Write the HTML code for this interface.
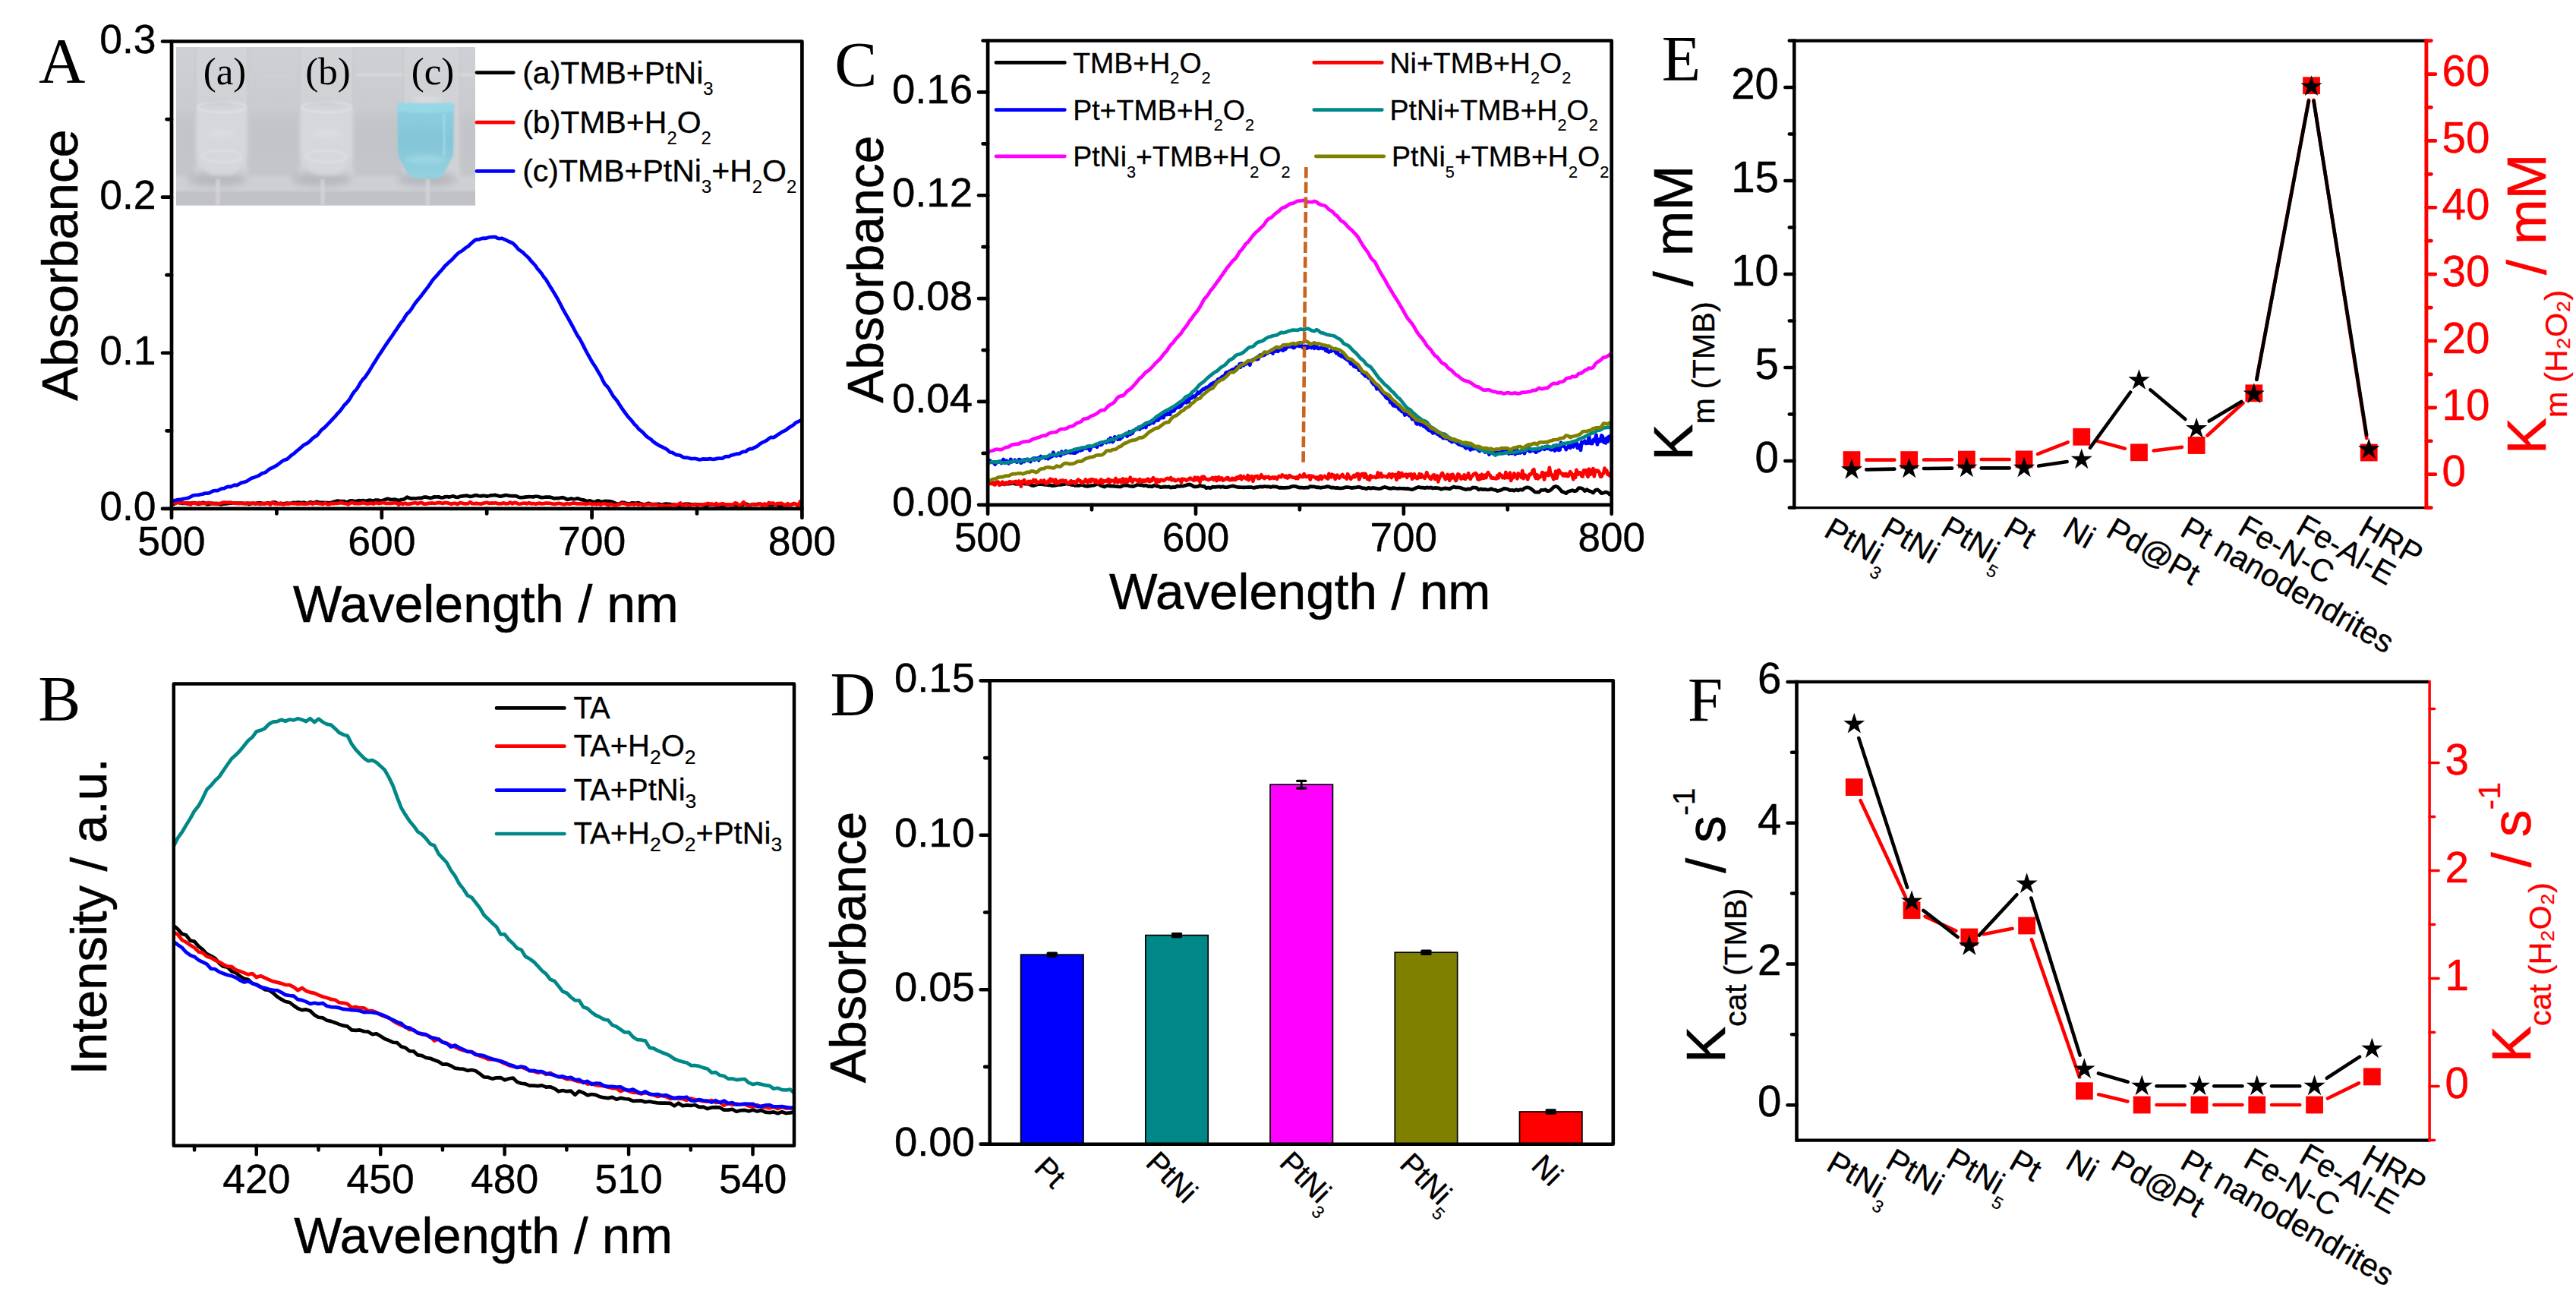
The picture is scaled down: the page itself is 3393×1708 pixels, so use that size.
<!DOCTYPE html>
<html lang="en"><head><meta charset="utf-8"><title>Figure</title>
<style>html,body{margin:0;padding:0;background:#fff}svg{display:block}</style></head>
<body>
<svg width="3393" height="1708" viewBox="0 0 3393 1708">
<rect width="3393" height="1708" fill="#fff"/>
<defs>
<filter id="b1" x="-20%" y="-20%" width="140%" height="140%"><feGaussianBlur stdDeviation="1.2"/></filter>
<filter id="b2" x="-20%" y="-20%" width="140%" height="140%"><feGaussianBlur stdDeviation="2.5"/></filter>
<filter id="b4" x="-30%" y="-30%" width="160%" height="160%"><feGaussianBlur stdDeviation="5"/></filter>
<linearGradient id="bg" x1="0" y1="0" x2="0" y2="1">
<stop offset="0" stop-color="#cfd0d5"/><stop offset="0.45" stop-color="#c9cace"/><stop offset="0.9" stop-color="#c3c4c9"/><stop offset="1" stop-color="#bfc0c6"/>
</linearGradient>
<linearGradient id="liq" x1="0" y1="0" x2="0" y2="1">
<stop offset="0" stop-color="#8fd0e2"/><stop offset="0.5" stop-color="#84c5d8"/><stop offset="1" stop-color="#92d2e0"/>
</linearGradient>
<clipPath id="pc"><rect x="232" y="62" width="394" height="208.5"/></clipPath>
<clipPath id="cA"><rect x="226" y="54.5" width="830.4" height="615.4"/></clipPath>
<clipPath id="cB"><rect x="228.8" y="900.6" width="817.2" height="608.2"/></clipPath>
<clipPath id="cC"><rect x="1301.1" y="53.5" width="821.6" height="611.3"/></clipPath>
</defs>
<g clip-path="url(#pc)">
<rect x="232" y="62" width="394" height="208.5" fill="url(#bg)"/>
<rect x="222" y="150" width="414" height="70" fill="#c3c4c9" opacity="0.8" filter="url(#b4)"/>
<rect x="222" y="232" width="414" height="20" fill="#d0d1d5" opacity="0.9" filter="url(#b2)"/>
<rect x="222" y="252.5" width="414" height="24" fill="#c1c2c8"/>
<rect x="470" y="96" width="170" height="4.5" fill="#d9dadd" opacity="0.8" filter="url(#b1)"/>
<rect x="345" y="98" width="40" height="4" fill="#d2d3d7" opacity="0.7" filter="url(#b1)"/>
<rect x="257" y="50" width="70" height="185" fill="#d3d4d8" opacity="0.8" filter="url(#b2)"/>
<rect x="256" y="50" width="3" height="170" fill="#bfc0c5" opacity="0.35" filter="url(#b1)"/>
<rect x="325" y="50" width="3" height="170" fill="#bfc0c5" opacity="0.35" filter="url(#b1)"/>
<ellipse cx="286" cy="236" rx="40" ry="9" fill="#b3b4ba" opacity="0.85" filter="url(#b4)"/>
<rect x="284" y="236" width="6" height="34" fill="#d5d6da" opacity="0.7" filter="url(#b1)"/>
<path d="M259 142 L325 142 L325 205 Q319 224 304 231 L280 231 Q265 224 259 205 Z" fill="#d8d9dd" opacity="0.8" filter="url(#b2)"/>
<ellipse cx="292" cy="141" rx="32" ry="7" fill="none" stroke="#e1e2e5" stroke-width="2.5" opacity="0.8" filter="url(#b1)"/>
<ellipse cx="292" cy="206" rx="25" ry="8" fill="none" stroke="#e0e1e4" stroke-width="2.5" opacity="0.75" filter="url(#b1)"/>
<ellipse cx="286" cy="133" rx="20" ry="5" fill="#cdced2" opacity="0.7" filter="url(#b2)"/>
<ellipse cx="292" cy="176" rx="18" ry="6" fill="#e0e1e4" opacity="0.5" filter="url(#b2)"/>
<rect x="394" y="50" width="72" height="185" fill="#d3d4d8" opacity="0.8" filter="url(#b2)"/>
<rect x="393" y="50" width="3" height="170" fill="#bfc0c5" opacity="0.35" filter="url(#b1)"/>
<rect x="464" y="50" width="3" height="170" fill="#bfc0c5" opacity="0.35" filter="url(#b1)"/>
<ellipse cx="424" cy="236" rx="40" ry="9" fill="#b3b4ba" opacity="0.85" filter="url(#b4)"/>
<rect x="422" y="236" width="6" height="34" fill="#d5d6da" opacity="0.7" filter="url(#b1)"/>
<path d="M396 142 L464 142 L464 205 Q458 224 442 231 L418 231 Q402 224 396 205 Z" fill="#d8d9dd" opacity="0.8" filter="url(#b2)"/>
<ellipse cx="430" cy="141" rx="33" ry="7" fill="none" stroke="#e1e2e5" stroke-width="2.5" opacity="0.8" filter="url(#b1)"/>
<ellipse cx="430" cy="206" rx="26" ry="8" fill="none" stroke="#e0e1e4" stroke-width="2.5" opacity="0.75" filter="url(#b1)"/>
<ellipse cx="424" cy="133" rx="20" ry="5" fill="#cdced2" opacity="0.7" filter="url(#b2)"/>
<ellipse cx="430" cy="176" rx="18" ry="6" fill="#e0e1e4" opacity="0.5" filter="url(#b2)"/>
<rect x="530.5" y="50" width="76" height="185" fill="#d3d4d8" opacity="0.8" filter="url(#b2)"/>
<rect x="529.5" y="50" width="3" height="170" fill="#bfc0c5" opacity="0.35" filter="url(#b1)"/>
<rect x="604.5" y="50" width="3" height="170" fill="#bfc0c5" opacity="0.35" filter="url(#b1)"/>
<ellipse cx="562.5" cy="236" rx="40" ry="9" fill="#b3b4ba" opacity="0.85" filter="url(#b4)"/>
<rect x="560.5" y="236" width="6" height="34" fill="#d5d6da" opacity="0.7" filter="url(#b1)"/>
<path d="M523.5 136 L598 136 L597 204 L588 222 Q583 235 573 235 L551 235 Q539 235 533 222 L524 204 Z" fill="url(#liq)" filter="url(#b1)"/>
<path d="M524 136 L597.5 136 L597 146 Q561 152 524.5 146 Z" fill="#9adbe9" opacity="0.75" filter="url(#b1)"/>
<ellipse cx="561" cy="210" rx="27" ry="6" fill="#a5dde8" opacity="0.55" filter="url(#b2)"/>
<rect x="583" y="150" width="4" height="55" fill="#a6dce8" opacity="0.6" filter="url(#b1)"/>
<ellipse cx="563" cy="131" rx="20" ry="4" fill="#dcdde1" opacity="0.8" filter="url(#b2)"/>
</g>
<text x="296" y="110.6" font-family='"Liberation Serif", "Times New Roman", Times, serif' font-size="51" text-anchor="middle" fill="#000" stroke="#000" stroke-width="0">(a)</text>
<text x="432" y="110.6" font-family='"Liberation Serif", "Times New Roman", Times, serif' font-size="51" text-anchor="middle" fill="#000" stroke="#000" stroke-width="0">(b)</text>
<text x="570" y="110.6" font-family='"Liberation Serif", "Times New Roman", Times, serif' font-size="51" text-anchor="middle" fill="#000" stroke="#000" stroke-width="0">(c)</text>
<g clip-path="url(#cA)">
<path d="M226 663.87 L228.77 663.72 L231.54 662.62 L234.31 661.45 L237.08 661.68 L239.85 662.84 L242.62 662.58 L245.39 662.89 L248.16 663.36 L250.93 662.68 L253.7 662.03 L256.47 662.33 L259.24 663.11 L262.01 663.62 L264.78 662.63 L267.55 661.8 L270.32 662.81 L273.09 664.14 L275.86 663.76 L278.63 662.65 L281.4 663.2 L284.17 663.39 L286.94 663.21 L289.71 664.13 L292.48 664.08 L295.25 663.35 L298.02 663.4 L300.79 663.04 L303.56 662.59 L306.33 662.63 L309.1 662.61 L311.87 662.66 L314.64 662.67 L317.41 662.72 L320.18 662.86 L322.95 663.08 L325.72 663.18 L328.49 663.84 L331.26 662.93 L334.03 662.87 L336.8 663.51 L339.57 662.25 L342.34 662.26 L345.11 662.9 L347.88 663.49 L350.65 662.89 L353.42 662.44 L356.19 662.98 L358.96 662.01 L361.73 661.32 L364.5 662.41 L367.27 663.29 L370.04 663.49 L372.81 663.36 L375.58 662.96 L378.35 662.7 L381.12 663.05 L383.89 662.51 L386.66 661.78 L389.43 662.33 L392.2 661.56 L394.97 661.95 L397.74 662.28 L400.51 661.53 L403.28 662.93 L406.05 662.49 L408.82 661.09 L411.59 662.21 L414.36 661.87 L417.13 660.82 L419.9 661.54 L422.67 661.92 L425.44 661.88 L428.21 661.77 L430.98 662.06 L433.75 662.3 L436.52 661.84 L439.29 660.91 L442.06 660.17 L444.83 659.47 L447.6 660.06 L450.37 660 L453.14 660 L455.91 661.71 L458.68 660.64 L461.45 659.27 L464.22 659.45 L466.99 660.09 L469.76 659.78 L472.53 659.19 L475.3 659.24 L478.07 659.06 L480.84 659.84 L483.61 659.37 L486.38 658.65 L489.15 659.14 L491.92 659.41 L494.69 658.53 L497.46 658.54 L500.23 659.26 L503 659.02 L505.77 658.71 L508.54 657.33 L511.31 656.84 L514.08 657.91 L516.85 658.1 L519.62 657.53 L522.39 658.24 L525.16 659.2 L527.93 658.14 L530.7 657.85 L533.47 656.73 L536.24 654.6 L539.01 655.86 L541.78 656.58 L544.55 656.29 L547.32 656.52 L550.09 656.04 L552.86 655.97 L555.63 655.95 L558.4 654.71 L561.17 654.61 L563.94 655.33 L566.71 656 L569.48 655.24 L572.25 654.22 L575.02 654.47 L577.79 654.3 L580.56 655.24 L583.33 655.4 L586.1 654.26 L588.87 654.06 L591.64 654.58 L594.41 653.92 L597.18 653.32 L599.95 654.49 L602.72 654.96 L605.49 654.09 L608.26 653.35 L611.03 653.21 L613.8 652.6 L616.57 653.07 L619.34 653.94 L622.11 653.48 L624.88 652.6 L627.65 652.13 L630.42 652.97 L633.19 653.41 L635.96 652.87 L638.73 652.96 L641.5 653.64 L644.27 653.04 L647.04 652.31 L649.81 652.21 L652.58 651.91 L655.35 652.75 L658.12 653.6 L660.89 653.4 L663.66 652.61 L666.43 651.97 L669.2 652.57 L671.97 652.95 L674.74 653.11 L677.51 653.03 L680.28 653.37 L683.05 654.69 L685.82 655.21 L688.59 655.2 L691.36 654.56 L694.13 654.3 L696.9 654.17 L699.67 654.26 L702.44 654.35 L705.21 653.77 L707.98 653.76 L710.75 654.49 L713.52 655.1 L716.29 655.01 L719.06 654.48 L721.83 654.64 L724.6 654.69 L727.37 655.54 L730.14 656.4 L732.91 655.97 L735.68 656.2 L738.45 655.53 L741.22 655.12 L743.99 656.11 L746.76 657.74 L749.53 657.42 L752.3 656.54 L755.07 657.27 L757.84 656.99 L760.61 656.37 L763.38 657.2 L766.15 658.22 L768.92 658.45 L771.69 659.46 L774.46 659.8 L777.23 659.45 L780 660.56 L782.77 661.47 L785.54 660.13 L788.31 659.34 L791.08 660.95 L793.85 660.69 L796.62 659.89 L799.39 660.17 L802.16 660.17 L804.93 660.47 L807.7 661.45 L810.47 662.84 L813.24 663.7 L816.01 663.26 L818.78 661.7 L821.55 661.82 L824.32 662.77 L827.09 663.1 L829.86 663.31 L832.63 662.34 L835.4 662.68 L838.17 662.63 L840.94 662.15 L843.71 663.4 L846.48 663.99 L849.25 664.68 L852.02 663.41 L854.79 662.86 L857.56 664.43 L860.33 664.16 L863.1 664.19 L865.87 663.86 L868.64 663.93 L871.41 664.79 L874.18 664.02 L876.95 663.47 L879.72 663.9 L882.49 663.94 L885.26 664.58 L888.03 665.02 L890.8 665.18 L893.57 665.7 L896.34 665.09 L899.11 664.43 L901.88 663.94 L904.65 663.65 L907.42 663.73 L910.19 664.31 L912.96 664.28 L915.73 664.16 L918.5 664.7 L921.27 664.43 L924.04 664.25 L926.81 665.22 L929.58 666.12 L932.35 665.02 L935.12 664.14 L937.89 664.35 L940.66 664.32 L943.43 665.27 L946.2 665.75 L948.97 665.62 L951.74 666.17 L954.51 665.34 L957.28 664.37 L960.05 664.61 L962.82 665.22 L965.59 665.16 L968.36 664.98 L971.13 665.61 L973.9 665.87 L976.67 665.52 L979.44 664.56 L982.21 663.57 L984.98 664.52 L987.75 665.52 L990.52 664.51 L993.29 664.04 L996.06 664.28 L998.83 663.71 L1001.6 664.06 L1004.37 664.5 L1007.14 664.24 L1009.91 664.99 L1012.68 665.1 L1015.45 665 L1018.22 665.26 L1020.99 665.01 L1023.76 664.83 L1026.53 665.73 L1029.3 665.63 L1032.07 665.51 L1034.84 665.15 L1037.61 664.7 L1040.38 665.24 L1043.15 664.52 L1045.92 663.13 L1048.69 664.28 L1051.46 665.02 L1054.23 663.75 L1056.4 664.39" fill="none" stroke="#000" stroke-width="4.7" stroke-linejoin="round" stroke-linecap="butt"/>
<path d="M226 662.68 L228.77 662.01 L231.54 662.59 L234.31 661.44 L237.08 662.94 L239.85 661.58 L242.62 662.53 L245.39 662.47 L248.16 662.08 L250.93 664.31 L253.7 662.25 L256.47 662.91 L259.24 663.3 L262.01 661.93 L264.78 663.49 L267.55 662.63 L270.32 663.33 L273.09 662.19 L275.86 662.14 L278.63 663.5 L281.4 663.09 L284.17 662.89 L286.94 663.21 L289.71 663.16 L292.48 662.16 L295.25 661.54 L298.02 661.88 L300.79 661.83 L303.56 661.59 L306.33 662.54 L309.1 662.63 L311.87 662.94 L314.64 663.1 L317.41 662.76 L320.18 662.85 L322.95 663.06 L325.72 662.43 L328.49 662.61 L331.26 663.07 L334.03 662.65 L336.8 662.73 L339.57 663.02 L342.34 663.89 L345.11 663.29 L347.88 662.91 L350.65 662.77 L353.42 663.06 L356.19 664.48 L358.96 661.26 L361.73 663.47 L364.5 663.3 L367.27 663.68 L370.04 662.48 L372.81 664.44 L375.58 663.78 L378.35 663.15 L381.12 663.28 L383.89 662.76 L386.66 663.22 L389.43 663.11 L392.2 663.76 L394.97 663.41 L397.74 663.15 L400.51 663.61 L403.28 663.53 L406.05 663.33 L408.82 662.28 L411.59 663.81 L414.36 662.49 L417.13 662.59 L419.9 663.13 L422.67 663.49 L425.44 664.03 L428.21 662.17 L430.98 664.06 L433.75 664.15 L436.52 662.89 L439.29 663.04 L442.06 662.81 L444.83 662.79 L447.6 662.34 L450.37 662.12 L453.14 663.01 L455.91 663.28 L458.68 664.21 L461.45 662.51 L464.22 661.85 L466.99 663.18 L469.76 662.81 L472.53 663.29 L475.3 662.83 L478.07 662.31 L480.84 662.64 L483.61 663.53 L486.38 663.2 L489.15 662.45 L491.92 663.55 L494.69 662.15 L497.46 662.69 L500.23 663.12 L503 662.17 L505.77 662.27 L508.54 662.98 L511.31 662.92 L514.08 662.81 L516.85 662.61 L519.62 662.28 L522.39 662.46 L525.16 664.75 L527.93 662.54 L530.7 663.81 L533.47 662.55 L536.24 663.72 L539.01 663.63 L541.78 663.15 L544.55 662.49 L547.32 662.04 L550.09 663.44 L552.86 662.09 L555.63 662.09 L558.4 663.76 L561.17 663.72 L563.94 662.86 L566.71 662.68 L569.48 662.43 L572.25 663.03 L575.02 662.53 L577.79 661.91 L580.56 662.35 L583.33 662.96 L586.1 661.85 L588.87 662.22 L591.64 662.88 L594.41 663.81 L597.18 662.91 L599.95 662.82 L602.72 663.96 L605.49 662.16 L608.26 662.36 L611.03 663.31 L613.8 663.46 L616.57 663.09 L619.34 661.25 L622.11 663.27 L624.88 663.23 L627.65 662.86 L630.42 663.24 L633.19 663.69 L635.96 662.89 L638.73 662.31 L641.5 661.77 L644.27 662.93 L647.04 662.47 L649.81 662.57 L652.58 662.24 L655.35 663.1 L658.12 663.39 L660.89 663.22 L663.66 662.3 L666.43 663.52 L669.2 663.19 L671.97 661.52 L674.74 663.39 L677.51 661.83 L680.28 662.38 L683.05 663.72 L685.82 663.49 L688.59 662.73 L691.36 662.6 L694.13 663.36 L696.9 662.09 L699.67 663.44 L702.44 663.03 L705.21 663.67 L707.98 663.17 L710.75 662.62 L713.52 663.41 L716.29 663.1 L719.06 662.48 L721.83 662.65 L724.6 662.77 L727.37 663.43 L730.14 663.88 L732.91 663.42 L735.68 662.74 L738.45 663.26 L741.22 663.85 L743.99 664.18 L746.76 662.99 L749.53 663.75 L752.3 663.36 L755.07 662.33 L757.84 662.87 L760.61 663.33 L763.38 663.38 L766.15 663.48 L768.92 663.38 L771.69 663.98 L774.46 663.21 L777.23 662.85 L780 664.14 L782.77 663.48 L785.54 664.35 L788.31 663.4 L791.08 664.71 L793.85 663.21 L796.62 663.25 L799.39 664.41 L802.16 665.1 L804.93 663.55 L807.7 665.06 L810.47 665.08 L813.24 664.65 L816.01 664.03 L818.78 662.76 L821.55 663.19 L824.32 663.74 L827.09 664.68 L829.86 664.24 L832.63 663.95 L835.4 664.53 L838.17 663.29 L840.94 664.84 L843.71 663.88 L846.48 665.62 L849.25 664.81 L852.02 664.14 L854.79 664.35 L857.56 663.53 L860.33 665 L863.1 664.07 L865.87 664.84 L868.64 665.94 L871.41 665.3 L874.18 665.45 L876.95 667.37 L879.72 665.71 L882.49 666.11 L885.26 664.91 L888.03 664.08 L890.8 665.38 L893.57 664.11 L896.34 662.37 L899.11 665.76 L901.88 665.51 L904.65 664.15 L907.42 666.42 L910.19 665.04 L912.96 664.61 L915.73 664.07 L918.5 666.16 L921.27 664.47 L924.04 664.34 L926.81 664.31 L929.58 663.9 L932.35 662.87 L935.12 663.81 L937.89 663.58 L940.66 665.24 L943.43 662.97 L946.2 665.13 L948.97 663.73 L951.74 663.35 L954.51 664.04 L957.28 664.25 L960.05 664.32 L962.82 664.86 L965.59 664.43 L968.36 662.31 L971.13 663.33 L973.9 666.12 L976.67 663.99 L979.44 661.24 L982.21 664.33 L984.98 666.24 L987.75 665.58 L990.52 664.17 L993.29 664.37 L996.06 664.91 L998.83 663.87 L1001.6 663.43 L1004.37 666.21 L1007.14 663.52 L1009.91 665.4 L1012.68 661.92 L1015.45 662.97 L1018.22 662.45 L1020.99 664.59 L1023.76 663.15 L1026.53 663.11 L1029.3 662.72 L1032.07 664.22 L1034.84 665.4 L1037.61 663.15 L1040.38 664.88 L1043.15 663.98 L1045.92 663.09 L1048.69 664.51 L1051.46 665.99 L1054.23 660.11 L1056.4 665.04" fill="none" stroke="#f00" stroke-width="4.7" stroke-linejoin="round" stroke-linecap="butt"/>
<path d="M226 659.35 L228.77 659.06 L231.54 658.74 L234.31 658.02 L237.08 657.96 L239.85 657.38 L242.62 656.76 L245.39 656.26 L248.16 655.68 L250.93 654.29 L253.7 652.76 L256.47 652.01 L259.24 651.87 L262.01 651.59 L264.78 651.04 L267.55 650.57 L270.32 649.57 L273.09 649.58 L275.86 649.08 L278.63 647.54 L281.4 646.23 L284.17 646.01 L286.94 646.06 L289.71 644.46 L292.48 643.31 L295.25 643.08 L298.02 641.74 L300.79 640.76 L303.56 641.15 L306.33 639.8 L309.1 638.59 L311.87 639.07 L314.64 637.72 L317.41 635.85 L320.18 635.18 L322.95 634.49 L325.72 633.42 L328.49 631.43 L331.26 629.72 L334.03 629.04 L336.8 627.86 L339.57 626.86 L342.34 625.43 L345.11 623.38 L347.88 622.73 L350.65 621.33 L353.42 618.7 L356.19 617.14 L358.96 615.8 L361.73 614.39 L364.5 612.92 L367.27 610.74 L370.04 608.59 L372.81 606.66 L375.58 605.45 L378.35 604.52 L381.12 602.03 L383.89 599.49 L386.66 597.66 L389.43 595.22 L392.2 592.82 L394.97 590.74 L397.74 588.07 L400.51 585.79 L403.28 584.49 L406.05 582.88 L408.82 580.32 L411.59 577.45 L414.36 575.36 L417.13 573.84 L419.9 570.7 L422.67 567.01 L425.44 564.54 L428.21 562.34 L430.98 559.4 L433.75 556.52 L436.52 553.66 L439.29 550.72 L442.06 547.83 L444.83 544.32 L447.6 541.57 L450.37 538.01 L453.14 534.03 L455.91 531.26 L458.68 528.2 L461.45 524.24 L464.22 519.23 L466.99 515.49 L469.76 512.48 L472.53 508.02 L475.3 503.06 L478.07 499.44 L480.84 496.81 L483.61 492.64 L486.38 488.44 L489.15 483.89 L491.92 479.3 L494.69 475.12 L497.46 470.4 L500.23 466.29 L503 462.15 L505.77 457.78 L508.54 453.64 L511.31 449.61 L514.08 445.69 L516.85 441.85 L519.62 437.47 L522.39 433.55 L525.16 429.35 L527.93 425.28 L530.7 422.08 L533.47 417.24 L536.24 413.19 L539.01 410.67 L541.78 407.16 L544.55 402.77 L547.32 398.66 L550.09 395.28 L552.86 391.89 L555.63 388.43 L558.4 384.76 L561.17 381.16 L563.94 377.65 L566.71 373.45 L569.48 369.4 L572.25 366.06 L575.02 363.28 L577.79 359.9 L580.56 356.96 L583.33 353.7 L586.1 350.32 L588.87 347.69 L591.64 345.1 L594.41 342.78 L597.18 339.95 L599.95 336.86 L602.72 334.12 L605.49 332 L608.26 330.51 L611.03 328.38 L613.8 326.01 L616.57 324.43 L619.34 321.78 L622.11 319.23 L624.88 316.92 L627.65 315.45 L630.42 315.42 L633.19 314.45 L635.96 313.7 L638.73 313.82 L641.5 313.36 L644.27 312.53 L647.04 312.26 L649.81 312.14 L652.58 312.09 L655.35 313.7 L658.12 314.25 L660.89 313.78 L663.66 314.84 L666.43 316.08 L669.2 317.54 L671.97 318.75 L674.74 319.99 L677.51 322.09 L680.28 325.17 L683.05 328.46 L685.82 330.41 L688.59 332.3 L691.36 335.12 L694.13 337.63 L696.9 340.27 L699.67 343.97 L702.44 346.77 L705.21 349.77 L707.98 354.06 L710.75 356.97 L713.52 360.54 L716.29 364.69 L719.06 368.06 L721.83 372.66 L724.6 377.37 L727.37 381.6 L730.14 386.16 L732.91 390.85 L735.68 395.85 L738.45 401.12 L741.22 406.67 L743.99 411.68 L746.76 416.44 L749.53 421.25 L752.3 426.26 L755.07 431.38 L757.84 436.75 L760.61 441.96 L763.38 445.92 L766.15 450.86 L768.92 456.41 L771.69 461.85 L774.46 467 L777.23 471.85 L780 476.92 L782.77 481.03 L785.54 485.33 L788.31 490.3 L791.08 494.68 L793.85 500.62 L796.62 505.82 L799.39 508.51 L802.16 512.18 L804.93 517.05 L807.7 521.65 L810.47 525.07 L813.24 528.48 L816.01 532.89 L818.78 537.15 L821.55 541.03 L824.32 544.83 L827.09 548.7 L829.86 551.53 L832.63 554.73 L835.4 558.39 L838.17 560.92 L840.94 564.57 L843.71 566.97 L846.48 569.15 L849.25 572.19 L852.02 575.03 L854.79 576.87 L857.56 578.72 L860.33 581.57 L863.1 583.43 L865.87 585.21 L868.64 586.98 L871.41 588.1 L874.18 589.6 L876.95 590.96 L879.72 592.97 L882.49 595.48 L885.26 595.94 L888.03 597.37 L890.8 599.1 L893.57 599.2 L896.34 600.02 L899.11 601.71 L901.88 602.65 L904.65 602.51 L907.42 603.28 L910.19 604.06 L912.96 604 L915.73 603.92 L918.5 604.55 L921.27 605.5 L924.04 604.91 L926.81 604.41 L929.58 604.59 L932.35 604.6 L935.12 604.08 L937.89 604.56 L940.66 604.82 L943.43 604.11 L946.2 603.59 L948.97 603.72 L951.74 603.59 L954.51 601.56 L957.28 601.19 L960.05 601.23 L962.82 599.72 L965.59 598.95 L968.36 598.21 L971.13 597.66 L973.9 597.38 L976.67 595.66 L979.44 594.77 L982.21 594.71 L984.98 592.35 L987.75 591.21 L990.52 591.11 L993.29 589.51 L996.06 588.35 L998.83 586.5 L1001.6 584.07 L1004.37 582.69 L1007.14 581.43 L1009.91 579.94 L1012.68 577.61 L1015.45 575.79 L1018.22 576.22 L1020.99 575.02 L1023.76 572.88 L1026.53 571.32 L1029.3 569.22 L1032.07 567.81 L1034.84 566.59 L1037.61 564.44 L1040.38 562.34 L1043.15 560.94 L1045.92 558.86 L1048.69 556.37 L1051.46 555.19 L1054.23 553.98 L1056.4 551.87" fill="none" stroke="#00f" stroke-width="4.7" stroke-linejoin="round" stroke-linecap="butt"/>
</g>
<rect x="226" y="54.5" width="830.4" height="615.4" fill="none" stroke="#000" stroke-width="4.7" stroke-linejoin="round"/>
<line x1="226" y1="669.9" x2="214" y2="669.9" stroke="#000" stroke-width="4.7" stroke-linecap="round"/>
<text x="205.5" y="685.1" font-family='"Liberation Sans", Arial, Helvetica, sans-serif' font-size="53.5" text-anchor="end" fill="#000" stroke="#000" stroke-width="0.43">0.0</text>
<line x1="226" y1="464.77" x2="214" y2="464.77" stroke="#000" stroke-width="4.7" stroke-linecap="round"/>
<text x="205.5" y="479.97" font-family='"Liberation Sans", Arial, Helvetica, sans-serif' font-size="53.5" text-anchor="end" fill="#000" stroke="#000" stroke-width="0.43">0.1</text>
<line x1="226" y1="259.63" x2="214" y2="259.63" stroke="#000" stroke-width="4.7" stroke-linecap="round"/>
<text x="205.5" y="274.83" font-family='"Liberation Sans", Arial, Helvetica, sans-serif' font-size="53.5" text-anchor="end" fill="#000" stroke="#000" stroke-width="0.43">0.2</text>
<line x1="226" y1="54.5" x2="214" y2="54.5" stroke="#000" stroke-width="4.7" stroke-linecap="round"/>
<text x="205.5" y="69.7" font-family='"Liberation Sans", Arial, Helvetica, sans-serif' font-size="53.5" text-anchor="end" fill="#000" stroke="#000" stroke-width="0.43">0.3</text>
<line x1="226" y1="567.33" x2="219.5" y2="567.33" stroke="#000" stroke-width="4.7" stroke-linecap="round"/>
<line x1="226" y1="362.2" x2="219.5" y2="362.2" stroke="#000" stroke-width="4.7" stroke-linecap="round"/>
<line x1="226" y1="157.07" x2="219.5" y2="157.07" stroke="#000" stroke-width="4.7" stroke-linecap="round"/>
<line x1="226" y1="669.9" x2="226" y2="681.9" stroke="#000" stroke-width="4.7" stroke-linecap="round"/>
<text x="226" y="731.3" font-family='"Liberation Sans", Arial, Helvetica, sans-serif' font-size="53.5" text-anchor="middle" fill="#000" stroke="#000" stroke-width="0.43">500</text>
<line x1="502.8" y1="669.9" x2="502.8" y2="681.9" stroke="#000" stroke-width="4.7" stroke-linecap="round"/>
<text x="502.8" y="731.3" font-family='"Liberation Sans", Arial, Helvetica, sans-serif' font-size="53.5" text-anchor="middle" fill="#000" stroke="#000" stroke-width="0.43">600</text>
<line x1="779.6" y1="669.9" x2="779.6" y2="681.9" stroke="#000" stroke-width="4.7" stroke-linecap="round"/>
<text x="779.6" y="731.3" font-family='"Liberation Sans", Arial, Helvetica, sans-serif' font-size="53.5" text-anchor="middle" fill="#000" stroke="#000" stroke-width="0.43">700</text>
<line x1="1056.4" y1="669.9" x2="1056.4" y2="681.9" stroke="#000" stroke-width="4.7" stroke-linecap="round"/>
<text x="1056.4" y="731.3" font-family='"Liberation Sans", Arial, Helvetica, sans-serif' font-size="53.5" text-anchor="middle" fill="#000" stroke="#000" stroke-width="0.43">800</text>
<line x1="364.4" y1="669.9" x2="364.4" y2="676.4" stroke="#000" stroke-width="4.7" stroke-linecap="round"/>
<line x1="641.2" y1="669.9" x2="641.2" y2="676.4" stroke="#000" stroke-width="4.7" stroke-linecap="round"/>
<line x1="918" y1="669.9" x2="918" y2="676.4" stroke="#000" stroke-width="4.7" stroke-linecap="round"/>
<text x="639.8" y="818.8" font-family='"Liberation Sans", Arial, Helvetica, sans-serif' font-size="68" text-anchor="middle" fill="#000" stroke="#000" stroke-width="0.54">Wavelength / nm</text>
<text x="0" y="0" font-family='"Liberation Sans", Arial, Helvetica, sans-serif' font-size="67" text-anchor="middle" fill="#000" stroke="#000" stroke-width="0.54" transform="translate(101.8 349) rotate(-90)">Absorbance</text>
<text x="51" y="109.3" font-family='"Liberation Serif", "Times New Roman", Times, serif' font-size="85" text-anchor="start" fill="#000" stroke="#000" stroke-width="0">A</text>
<line x1="628" y1="95.6" x2="676.3" y2="95.6" stroke="#000" stroke-width="4.7" stroke-linecap="round"/>
<line x1="628" y1="161.2" x2="676.3" y2="161.2" stroke="#f00" stroke-width="4.7" stroke-linecap="round"/>
<line x1="628" y1="225.4" x2="676.3" y2="225.4" stroke="#00f" stroke-width="4.7" stroke-linecap="round"/>
<text x="688.2" y="110.4" font-family='"Liberation Sans", Arial, Helvetica, sans-serif' font-size="41" text-anchor="start" fill="#000" stroke="#000" stroke-width="0.33">(a)TMB+PtNi<tspan dy="14.5" font-size="23.8" stroke-width="0.19">3</tspan></text>
<text x="688.2" y="175" font-family='"Liberation Sans", Arial, Helvetica, sans-serif' font-size="41" text-anchor="start" fill="#000" stroke="#000" stroke-width="0.33">(b)TMB+H<tspan dy="14.5" font-size="23.8" stroke-width="0.19">2</tspan><tspan dy="-14.5">O</tspan><tspan dy="14.5" font-size="23.8" stroke-width="0.19">2</tspan></text>
<text x="688.2" y="239" font-family='"Liberation Sans", Arial, Helvetica, sans-serif' font-size="41" text-anchor="start" fill="#000" stroke="#000" stroke-width="0.33">(c)TMB+PtNi<tspan dy="14.5" font-size="23.8" stroke-width="0.19">3</tspan><tspan dy="-14.5">+H</tspan><tspan dy="14.5" font-size="23.8" stroke-width="0.19">2</tspan><tspan dy="-14.5">O</tspan><tspan dy="14.5" font-size="23.8" stroke-width="0.19">2</tspan></text>
<g clip-path="url(#cB)">
<path d="M228.8 1218.93 L234.25 1223.64 L239.7 1229.84 L245.15 1231.47 L250.6 1238.6 L256.05 1239.85 L261.5 1246.14 L266.95 1250.34 L272.4 1256.24 L277.85 1258.84 L283.3 1262.08 L288.75 1268.61 L294.2 1272.78 L299.65 1273.57 L305.1 1279.04 L310.55 1281.13 L316 1285.37 L321.45 1288.82 L326.9 1290.05 L332.35 1294.91 L337.8 1296.49 L343.25 1299.56 L348.7 1303.16 L354.15 1304.05 L359.6 1307.54 L365.05 1312.57 L370.5 1315.9 L375.95 1318.96 L381.4 1320.01 L386.85 1324.24 L392.3 1328.04 L397.75 1330.14 L403.2 1329.34 L408.65 1331.31 L414.1 1336.44 L419.55 1339.78 L425 1340.31 L430.45 1343.71 L435.9 1344.85 L441.35 1346.83 L446.8 1348.87 L452.25 1350.66 L457.7 1351.65 L463.15 1356.38 L468.6 1356.83 L474.05 1356.42 L479.5 1358.22 L484.95 1358.67 L490.4 1362.14 L495.85 1361.27 L501.3 1364.49 L506.75 1367.98 L512.2 1370.12 L517.65 1372.73 L523.1 1373.13 L528.55 1378.33 L534 1379.72 L539.45 1384.04 L544.9 1384.41 L550.35 1389.41 L555.8 1390.2 L561.25 1393.01 L566.7 1393.81 L572.15 1395.94 L577.6 1397.95 L583.05 1401.57 L588.5 1401.39 L593.95 1403.45 L599.4 1406.67 L604.85 1407.31 L610.3 1407.74 L615.75 1409.84 L621.2 1409.01 L626.65 1410.21 L632.1 1414.07 L637.55 1418.4 L643 1418.71 L648.45 1420.63 L653.9 1419.31 L659.35 1419.08 L664.8 1422.32 L670.25 1420.53 L675.7 1419.5 L681.15 1424.88 L686.6 1426.78 L692.05 1427.44 L697.5 1429.62 L702.95 1429.67 L708.4 1430.19 L713.85 1429.41 L719.3 1431.64 L724.75 1431.28 L730.2 1433.34 L735.65 1437.27 L741.1 1436.02 L746.55 1437.18 L752 1436.7 L757.45 1441.88 L762.9 1436.81 L768.35 1439.06 L773.8 1442.36 L779.25 1441.02 L784.7 1441.8 L790.15 1444.32 L795.6 1445.44 L801.05 1446.14 L806.5 1444.9 L811.95 1447.74 L817.4 1445.9 L822.85 1446.97 L828.3 1447.52 L833.75 1449.88 L839.2 1449.61 L844.65 1449.43 L850.1 1451.29 L855.55 1450.48 L861 1451.7 L866.45 1452.49 L871.9 1452.68 L877.35 1452.63 L882.8 1452.82 L888.25 1456.37 L893.7 1452.74 L899.15 1456.3 L904.6 1455.35 L910.05 1455.96 L915.5 1455.03 L920.95 1457.78 L926.4 1457.56 L931.85 1460.11 L937.3 1458.44 L942.75 1458.2 L948.2 1458.47 L953.65 1461.69 L959.1 1461.59 L964.55 1460.78 L970 1463.76 L975.45 1462.3 L980.9 1461.92 L986.35 1463.32 L991.8 1461.55 L997.25 1463.44 L1002.7 1462.15 L1008.15 1464.68 L1013.6 1465.05 L1019.05 1464.38 L1024.5 1466.2 L1029.95 1464.16 L1035.4 1466.03 L1040.85 1465.41 L1046 1464.3" fill="none" stroke="#000" stroke-width="4.7" stroke-linejoin="round" stroke-linecap="butt"/>
<path d="M228.8 1227.41 L234.25 1230.69 L239.7 1237.73 L245.15 1240.72 L250.6 1244.58 L256.05 1247.93 L261.5 1253.46 L266.95 1254.75 L272.4 1259.52 L277.85 1261.2 L283.3 1264.51 L288.75 1266.82 L294.2 1270.08 L299.65 1272.57 L305.1 1272.97 L310.55 1277.2 L316 1278.91 L321.45 1281.15 L326.9 1283.39 L332.35 1282.06 L337.8 1287.02 L343.25 1285.11 L348.7 1287.6 L354.15 1290.12 L359.6 1292.41 L365.05 1293.63 L370.5 1295.06 L375.95 1296.97 L381.4 1297.06 L386.85 1299.92 L392.3 1304.15 L397.75 1300.93 L403.2 1304.96 L408.65 1306.86 L414.1 1307.85 L419.55 1310.39 L425 1312.44 L430.45 1313.92 L435.9 1315.93 L441.35 1316.75 L446.8 1320.24 L452.25 1320.8 L457.7 1322.07 L463.15 1326.98 L468.6 1325.89 L474.05 1327.44 L479.5 1327.4 L484.95 1331.15 L490.4 1331.22 L495.85 1333.24 L501.3 1336.56 L506.75 1338.64 L512.2 1340.15 L517.65 1344.52 L523.1 1347.58 L528.55 1350.1 L534 1352.12 L539.45 1356 L544.9 1356.27 L550.35 1360.4 L555.8 1362.11 L561.25 1362.91 L566.7 1365.11 L572.15 1370.68 L577.6 1368.15 L583.05 1372.34 L588.5 1373.99 L593.95 1376.86 L599.4 1378.78 L604.85 1381.42 L610.3 1383.24 L615.75 1384.48 L621.2 1385.03 L626.65 1388.03 L632.1 1390.68 L637.55 1392.46 L643 1394.84 L648.45 1395.23 L653.9 1395.91 L659.35 1398.19 L664.8 1400.62 L670.25 1402.89 L675.7 1404.44 L681.15 1405.69 L686.6 1405.09 L692.05 1407.3 L697.5 1409.64 L702.95 1410.75 L708.4 1412.59 L713.85 1411.78 L719.3 1414.89 L724.75 1412.74 L730.2 1416.23 L735.65 1418 L741.1 1418.78 L746.55 1421.18 L752 1421.27 L757.45 1422.67 L762.9 1424.51 L768.35 1424.1 L773.8 1427.63 L779.25 1426.63 L784.7 1429.01 L790.15 1429.74 L795.6 1430.2 L801.05 1431.8 L806.5 1433.06 L811.95 1433.31 L817.4 1436.97 L822.85 1434.72 L828.3 1436.67 L833.75 1438.71 L839.2 1438.99 L844.65 1440.44 L850.1 1438.69 L855.55 1440.84 L861 1441.94 L866.45 1443.97 L871.9 1442.68 L877.35 1444.21 L882.8 1446.89 L888.25 1446.11 L893.7 1446.85 L899.15 1447.02 L904.6 1448.92 L910.05 1446.48 L915.5 1448.15 L920.95 1448.99 L926.4 1450.26 L931.85 1450.69 L937.3 1449.1 L942.75 1451.88 L948.2 1451.43 L953.65 1455.62 L959.1 1453.01 L964.55 1454.83 L970 1453.69 L975.45 1454.46 L980.9 1454.31 L986.35 1456.46 L991.8 1457.38 L997.25 1455.22 L1002.7 1457.42 L1008.15 1458.1 L1013.6 1459.11 L1019.05 1457.64 L1024.5 1460.09 L1029.95 1457.78 L1035.4 1459.59 L1040.85 1459.25 L1046 1459.77" fill="none" stroke="#f00" stroke-width="4.7" stroke-linejoin="round" stroke-linecap="butt"/>
<path d="M228.8 1240.17 L234.25 1244.19 L239.7 1247.9 L245.15 1253.95 L250.6 1257.83 L256.05 1259.96 L261.5 1264.26 L266.95 1266.82 L272.4 1269.68 L277.85 1275.66 L283.3 1276.27 L288.75 1279.87 L294.2 1281.98 L299.65 1284.05 L305.1 1285.17 L310.55 1287.33 L316 1290.81 L321.45 1293.42 L326.9 1292.23 L332.35 1294.81 L337.8 1297.14 L343.25 1299.93 L348.7 1300.96 L354.15 1302.77 L359.6 1303.78 L365.05 1304.24 L370.5 1306.83 L375.95 1310.13 L381.4 1310.99 L386.85 1311.58 L392.3 1316.18 L397.75 1317.11 L403.2 1319.14 L408.65 1321.96 L414.1 1320.81 L419.55 1321.85 L425 1321.08 L430.45 1324.71 L435.9 1326.08 L441.35 1326.32 L446.8 1327.19 L452.25 1328.95 L457.7 1329.28 L463.15 1330.15 L468.6 1330.51 L474.05 1331.29 L479.5 1333.1 L484.95 1332.73 L490.4 1333.26 L495.85 1334.12 L501.3 1335.76 L506.75 1337.79 L512.2 1340.58 L517.65 1343.15 L523.1 1345.87 L528.55 1347.71 L534 1352.79 L539.45 1353.59 L544.9 1356.69 L550.35 1360.22 L555.8 1361.39 L561.25 1362.39 L566.7 1365.94 L572.15 1366.99 L577.6 1368.8 L583.05 1372.59 L588.5 1374.08 L593.95 1378.66 L599.4 1376.45 L604.85 1379.59 L610.3 1382.03 L615.75 1384.9 L621.2 1385.27 L626.65 1389 L632.1 1389.41 L637.55 1390.3 L643 1392.62 L648.45 1394.45 L653.9 1396.04 L659.35 1397.22 L664.8 1399.2 L670.25 1401.94 L675.7 1403.36 L681.15 1405.84 L686.6 1404.54 L692.05 1405.71 L697.5 1410.23 L702.95 1409.84 L708.4 1411.16 L713.85 1411.18 L719.3 1413.7 L724.75 1414.6 L730.2 1415.79 L735.65 1418.15 L741.1 1417.35 L746.55 1419.5 L752 1418.76 L757.45 1422.12 L762.9 1421.74 L768.35 1425.81 L773.8 1423.8 L779.25 1427.92 L784.7 1426.59 L790.15 1426.93 L795.6 1429.85 L801.05 1430.93 L806.5 1430.8 L811.95 1431.51 L817.4 1431.38 L822.85 1434.4 L828.3 1436.01 L833.75 1434.55 L839.2 1437.61 L844.65 1439.96 L850.1 1437.46 L855.55 1440.64 L861 1441.45 L866.45 1441.09 L871.9 1442.82 L877.35 1442.16 L882.8 1444.46 L888.25 1446.34 L893.7 1445.08 L899.15 1445.46 L904.6 1444.72 L910.05 1449.23 L915.5 1449.85 L920.95 1448.07 L926.4 1449.24 L931.85 1449.62 L937.3 1451.63 L942.75 1449.23 L948.2 1452 L953.65 1449.57 L959.1 1452.97 L964.55 1452.05 L970 1454.56 L975.45 1454.25 L980.9 1453.52 L986.35 1453.82 L991.8 1453.78 L997.25 1457.07 L1002.7 1456.85 L1008.15 1455.56 L1013.6 1455.21 L1019.05 1457.4 L1024.5 1457.27 L1029.95 1457.11 L1035.4 1458.03 L1040.85 1458.89 L1046 1458.47" fill="none" stroke="#00f" stroke-width="4.7" stroke-linejoin="round" stroke-linecap="butt"/>
<path d="M228.8 1114.26 L234.25 1103.33 L239.7 1095.96 L245.15 1086.62 L250.6 1077.87 L256.05 1068 L261.5 1061.3 L266.95 1051.36 L272.4 1039.66 L277.85 1034.58 L283.3 1027.98 L288.75 1022.86 L294.2 1014.74 L299.65 1006.75 L305.1 999.08 L310.55 994.34 L316 988.75 L321.45 982.08 L326.9 975.25 L332.35 970.77 L337.8 963.3 L343.25 961.85 L348.7 959.26 L354.15 953.64 L359.6 950.61 L365.05 950.21 L370.5 947.78 L375.95 949.76 L381.4 947.53 L386.85 948.38 L392.3 946.24 L397.75 947.83 L403.2 950.03 L408.65 946.14 L414.1 951.07 L419.55 946.73 L425 950.72 L430.45 953.69 L435.9 954.63 L441.35 959.41 L446.8 964.77 L452.25 967.42 L457.7 968.91 L463.15 979.61 L468.6 987.23 L474.05 992.88 L479.5 998.45 L484.95 1002.13 L490.4 1001.15 L495.85 1004.04 L501.3 1008.91 L506.75 1014.04 L512.2 1023.57 L517.65 1034.89 L523.1 1049.9 L528.55 1064 L534 1072.91 L539.45 1081.21 L544.9 1087.65 L550.35 1095.38 L555.8 1098.79 L561.25 1104.44 L566.7 1111.37 L572.15 1113.53 L577.6 1124.3 L583.05 1130.04 L588.5 1136.01 L593.95 1146.11 L599.4 1153.72 L604.85 1163.83 L610.3 1170.64 L615.75 1179.12 L621.2 1181.8 L626.65 1188.67 L632.1 1195.72 L637.55 1204.99 L643 1210.26 L648.45 1215.65 L653.9 1220.41 L659.35 1230.38 L664.8 1230.33 L670.25 1237.52 L675.7 1242.56 L681.15 1248.67 L686.6 1250.61 L692.05 1259.62 L697.5 1262.54 L702.95 1266.48 L708.4 1272.12 L713.85 1278.27 L719.3 1282.59 L724.75 1289.76 L730.2 1291.83 L735.65 1298.64 L741.1 1305.64 L746.55 1307.73 L752 1313.25 L757.45 1317.42 L762.9 1317.51 L768.35 1326.18 L773.8 1327.97 L779.25 1333.09 L784.7 1337.01 L790.15 1339.48 L795.6 1342.44 L801.05 1343.5 L806.5 1349.9 L811.95 1352 L817.4 1355.68 L822.85 1359.5 L828.3 1359.36 L833.75 1365.53 L839.2 1369.14 L844.65 1369.53 L850.1 1370.61 L855.55 1379.61 L861 1380.67 L866.45 1383.58 L871.9 1385.95 L877.35 1387.97 L882.8 1390.71 L888.25 1394.46 L893.7 1396.69 L899.15 1398.25 L904.6 1399.5 L910.05 1403.05 L915.5 1402.99 L920.95 1404.08 L926.4 1406.14 L931.85 1407.5 L937.3 1412.54 L942.75 1412.15 L948.2 1416.05 L953.65 1417.04 L959.1 1420.61 L964.55 1420.59 L970 1422.1 L975.45 1421.5 L980.9 1421 L986.35 1425.92 L991.8 1427.95 L997.25 1426.8 L1002.7 1427.82 L1008.15 1429.17 L1013.6 1429.82 L1019.05 1433.73 L1024.5 1432.8 L1029.95 1435.18 L1035.4 1435.51 L1040.85 1434.61 L1046 1439.62" fill="none" stroke="#008787" stroke-width="4.7" stroke-linejoin="round" stroke-linecap="butt"/>
</g>
<rect x="228.8" y="900.6" width="817.2" height="608.2" fill="none" stroke="#000" stroke-width="4.5" stroke-linejoin="round"/>
<line x1="337.76" y1="1508.8" x2="337.76" y2="1520.3" stroke="#000" stroke-width="4.5" stroke-linecap="round"/>
<text x="337.76" y="1570.6" font-family='"Liberation Sans", Arial, Helvetica, sans-serif' font-size="53.5" text-anchor="middle" fill="#000" stroke="#000" stroke-width="0.43">420</text>
<line x1="501.2" y1="1508.8" x2="501.2" y2="1520.3" stroke="#000" stroke-width="4.5" stroke-linecap="round"/>
<text x="501.2" y="1570.6" font-family='"Liberation Sans", Arial, Helvetica, sans-serif' font-size="53.5" text-anchor="middle" fill="#000" stroke="#000" stroke-width="0.43">450</text>
<line x1="664.64" y1="1508.8" x2="664.64" y2="1520.3" stroke="#000" stroke-width="4.5" stroke-linecap="round"/>
<text x="664.64" y="1570.6" font-family='"Liberation Sans", Arial, Helvetica, sans-serif' font-size="53.5" text-anchor="middle" fill="#000" stroke="#000" stroke-width="0.43">480</text>
<line x1="828.08" y1="1508.8" x2="828.08" y2="1520.3" stroke="#000" stroke-width="4.5" stroke-linecap="round"/>
<text x="828.08" y="1570.6" font-family='"Liberation Sans", Arial, Helvetica, sans-serif' font-size="53.5" text-anchor="middle" fill="#000" stroke="#000" stroke-width="0.43">510</text>
<line x1="991.52" y1="1508.8" x2="991.52" y2="1520.3" stroke="#000" stroke-width="4.5" stroke-linecap="round"/>
<text x="991.52" y="1570.6" font-family='"Liberation Sans", Arial, Helvetica, sans-serif' font-size="53.5" text-anchor="middle" fill="#000" stroke="#000" stroke-width="0.43">540</text>
<line x1="256.04" y1="1508.8" x2="256.04" y2="1514.5" stroke="#000" stroke-width="4.5" stroke-linecap="round"/>
<line x1="419.48" y1="1508.8" x2="419.48" y2="1514.5" stroke="#000" stroke-width="4.5" stroke-linecap="round"/>
<line x1="582.92" y1="1508.8" x2="582.92" y2="1514.5" stroke="#000" stroke-width="4.5" stroke-linecap="round"/>
<line x1="746.36" y1="1508.8" x2="746.36" y2="1514.5" stroke="#000" stroke-width="4.5" stroke-linecap="round"/>
<line x1="909.8" y1="1508.8" x2="909.8" y2="1514.5" stroke="#000" stroke-width="4.5" stroke-linecap="round"/>
<text x="636.5" y="1649.5" font-family='"Liberation Sans", Arial, Helvetica, sans-serif' font-size="66.8" text-anchor="middle" fill="#000" stroke="#000" stroke-width="0.53">Wavelength / nm</text>
<text x="0" y="0" font-family='"Liberation Sans", Arial, Helvetica, sans-serif' font-size="67" text-anchor="middle" fill="#000" stroke="#000" stroke-width="0.54" transform="translate(140 1207) rotate(-90)">Intensity / a.u.</text>
<text x="50.3" y="948.9" font-family='"Liberation Serif", "Times New Roman", Times, serif' font-size="84" text-anchor="start" fill="#000" stroke="#000" stroke-width="0">B</text>
<line x1="654" y1="932.4" x2="743.4" y2="932.4" stroke="#000" stroke-width="4.7" stroke-linecap="round"/>
<line x1="654" y1="982.7" x2="743.4" y2="982.7" stroke="#f00" stroke-width="4.7" stroke-linecap="round"/>
<line x1="654" y1="1040.6" x2="743.4" y2="1040.6" stroke="#00f" stroke-width="4.7" stroke-linecap="round"/>
<line x1="654" y1="1098" x2="743.4" y2="1098" stroke="#008787" stroke-width="4.7" stroke-linecap="round"/>
<text x="755.5" y="946.3" font-family='"Liberation Sans", Arial, Helvetica, sans-serif' font-size="40" text-anchor="start" fill="#000" stroke="#000" stroke-width="0.32">TA</text>
<text x="755.5" y="996.2" font-family='"Liberation Sans", Arial, Helvetica, sans-serif' font-size="40" text-anchor="start" fill="#000" stroke="#000" stroke-width="0.32">TA+H<tspan dy="10.2" font-size="26.5" stroke-width="0.21">2</tspan><tspan dy="-10.2">O</tspan><tspan dy="10.2" font-size="26.5" stroke-width="0.21">2</tspan></text>
<text x="755.5" y="1053.6" font-family='"Liberation Sans", Arial, Helvetica, sans-serif' font-size="40" text-anchor="start" fill="#000" stroke="#000" stroke-width="0.32">TA+PtNi<tspan dy="10.2" font-size="26.5" stroke-width="0.21">3</tspan></text>
<text x="755.5" y="1110.9" font-family='"Liberation Sans", Arial, Helvetica, sans-serif' font-size="40" text-anchor="start" fill="#000" stroke="#000" stroke-width="0.32">TA+H<tspan dy="10.2" font-size="26.5" stroke-width="0.21">2</tspan><tspan dy="-10.2">O</tspan><tspan dy="10.2" font-size="26.5" stroke-width="0.21">2</tspan><tspan dy="-10.2">+PtNi</tspan><tspan dy="10.2" font-size="26.5" stroke-width="0.21">3</tspan></text>
<g clip-path="url(#cC)">
<path d="M1301.1 636.22 L1303.84 636.33 L1306.58 636.2 L1309.32 636.32 L1312.06 635.95 L1314.8 636.02 L1317.54 637.15 L1320.28 637.25 L1323.02 637.67 L1325.76 636.92 L1328.5 637.28 L1331.24 636.87 L1333.98 636.31 L1336.72 637.06 L1339.46 637.45 L1342.2 637.07 L1344.94 636.54 L1347.68 636.48 L1350.42 637.08 L1353.16 636.63 L1355.9 637.78 L1358.64 639.23 L1361.38 639.55 L1364.12 638.73 L1366.86 637.65 L1369.6 637.54 L1372.34 637.68 L1375.08 638.16 L1377.82 638.48 L1380.56 638.78 L1383.3 638.87 L1386.04 639.63 L1388.78 639.37 L1391.52 638.85 L1394.26 638.21 L1397 638.3 L1399.74 637.95 L1402.48 637.55 L1405.22 637.05 L1407.96 637.72 L1410.7 638.29 L1413.44 638.54 L1416.18 639.41 L1418.92 639.27 L1421.66 639.39 L1424.4 638.25 L1427.14 639.19 L1429.88 640.23 L1432.62 640.31 L1435.36 639.89 L1438.1 639.5 L1440.84 639.13 L1443.58 638.02 L1446.32 636.95 L1449.06 638.99 L1451.8 640.1 L1454.54 641.08 L1457.28 639.76 L1460.02 639.41 L1462.76 640.26 L1465.5 639.94 L1468.24 640.39 L1470.98 640.67 L1473.72 640.98 L1476.46 640.82 L1479.2 639.47 L1481.94 639.08 L1484.68 639.05 L1487.42 639.94 L1490.16 640.43 L1492.9 640.61 L1495.64 639.32 L1498.38 638.27 L1501.12 638.81 L1503.86 638.72 L1506.6 639.71 L1509.34 639 L1512.08 640.59 L1514.82 640.2 L1517.56 640.86 L1520.3 639.06 L1523.04 640.16 L1525.78 640.35 L1528.52 641.54 L1531.26 641.36 L1534 640.9 L1536.74 641.29 L1539.48 640.83 L1542.22 642.14 L1544.96 641.4 L1547.7 641.66 L1550.44 640.19 L1553.18 640.45 L1555.92 640.14 L1558.66 640.07 L1561.4 639.15 L1564.14 638.42 L1566.88 637.87 L1569.62 638.96 L1572.36 640.93 L1575.1 640.84 L1577.84 640.67 L1580.58 639.08 L1583.32 640.36 L1586.06 640.28 L1588.8 642.7 L1591.54 641.95 L1594.28 642.83 L1597.02 641.16 L1599.76 641.46 L1602.5 641.16 L1605.24 640.74 L1607.98 641.36 L1610.72 640.79 L1613.46 641.76 L1616.2 641.72 L1618.94 640.96 L1621.68 640.29 L1624.42 639.95 L1627.16 640.72 L1629.9 641.35 L1632.64 641.54 L1635.38 641.75 L1638.12 641.9 L1640.86 641.75 L1643.6 641.61 L1646.34 641.72 L1649.08 641.64 L1651.82 642.4 L1654.56 641.63 L1657.3 641.47 L1660.04 640.82 L1662.78 641.19 L1665.52 640.48 L1668.26 640.88 L1671 640.73 L1673.74 641.55 L1676.48 640.71 L1679.22 640.88 L1681.96 641.19 L1684.7 642.31 L1687.44 642.21 L1690.18 642.38 L1692.92 642.28 L1695.66 642.14 L1698.4 641.95 L1701.14 640.77 L1703.88 640.38 L1706.62 640.5 L1709.36 641.58 L1712.1 642.11 L1714.84 641.98 L1717.58 642.49 L1720.32 642.02 L1723.06 642.21 L1725.8 640.57 L1728.54 640.83 L1731.28 640.87 L1734.02 641.84 L1736.76 641.66 L1739.5 642.36 L1742.24 641.76 L1744.98 641.53 L1747.72 640.68 L1750.46 640.83 L1753.2 642.05 L1755.94 641.95 L1758.68 642.55 L1761.42 642.41 L1764.16 643.02 L1766.9 642.97 L1769.64 642.54 L1772.38 641.61 L1775.12 641.5 L1777.86 641.98 L1780.6 642.6 L1783.34 642.1 L1786.08 641.99 L1788.82 641.33 L1791.56 641.65 L1794.3 642.71 L1797.04 642.81 L1799.78 643.83 L1802.52 642.24 L1805.26 643.17 L1808 642.4 L1810.74 642.85 L1813.48 643.28 L1816.22 643.61 L1818.96 643.29 L1821.7 641.98 L1824.44 641.35 L1827.18 642.37 L1829.92 643.19 L1832.66 643.28 L1835.4 642.58 L1838.14 643.04 L1840.88 643.39 L1843.62 643.17 L1846.36 643.27 L1849.1 643.36 L1851.84 643.7 L1854.58 643.45 L1857.32 644.18 L1860.06 644.74 L1862.8 643.61 L1865.54 642.37 L1868.28 641.41 L1871.02 642.03 L1873.76 642 L1876.5 642.73 L1879.24 641.93 L1881.98 642.36 L1884.72 641.95 L1887.46 643.02 L1890.2 642.47 L1892.94 642.56 L1895.68 643.01 L1898.42 644.23 L1901.16 643.23 L1903.9 642.95 L1906.64 643.32 L1909.38 643.89 L1912.12 642.28 L1914.86 641.04 L1917.6 641.94 L1920.34 641.74 L1923.08 642.13 L1925.82 643.08 L1928.56 644.1 L1931.3 644.6 L1934.04 643.87 L1936.78 644.09 L1939.52 642.18 L1942.26 642.08 L1945 642.44 L1947.74 644.92 L1950.48 643.82 L1953.22 644.62 L1955.96 644.33 L1958.7 644.98 L1961.44 644.74 L1964.18 643.7 L1966.92 644.95 L1969.66 645.17 L1972.4 646.56 L1975.14 645.89 L1977.88 645.08 L1980.62 643.4 L1983.36 643.56 L1986.1 644.3 L1988.84 645.8 L1991.58 645.31 L1994.32 646.21 L1997.06 644.8 L1999.8 645.87 L2002.54 644.66 L2005.28 645.28 L2008.02 642.86 L2010.76 641.85 L2013.5 642.01 L2016.24 643.38 L2018.98 645.57 L2021.72 648 L2024.46 648.06 L2027.2 648.27 L2029.94 645.27 L2032.68 645.48 L2035.42 644.76 L2038.16 646.75 L2040.9 646.45 L2043.64 644.38 L2046.38 641.5 L2049.12 640.41 L2051.86 641.41 L2054.6 644.2 L2057.34 647.35 L2060.08 648.24 L2062.82 649.64 L2065.56 647.31 L2068.3 646.53 L2071.04 645.67 L2073.78 646.86 L2076.52 646.31 L2079.26 642.57 L2082 642.75 L2084.74 643.69 L2087.48 646.57 L2090.22 644.68 L2092.96 646.41 L2095.7 647.19 L2098.44 649 L2101.18 645.74 L2103.92 644.74 L2106.66 646.6 L2109.4 649.75 L2112.14 648.94 L2114.88 647.96 L2117.62 648.81 L2120.36 651.14 L2122.7 650.59" fill="none" stroke="#000" stroke-width="4.7" stroke-linejoin="round" stroke-linecap="butt"/>
<path d="M1301.1 635.37 L1302.47 637.48 L1303.84 636.82 L1305.21 635.98 L1306.58 637.09 L1307.95 636.75 L1309.32 638.15 L1310.69 638.44 L1312.06 635.34 L1313.43 634.63 L1314.8 634.6 L1316.17 638.79 L1317.54 638.55 L1318.91 636.37 L1320.28 634.7 L1321.65 635.78 L1323.02 638 L1324.39 636.11 L1325.76 635.39 L1327.13 636.97 L1328.5 636.29 L1329.87 634.16 L1331.24 636.06 L1332.61 634.74 L1333.98 635.46 L1335.35 634.53 L1336.72 634.53 L1338.09 633.9 L1339.46 637.04 L1340.83 636.36 L1342.2 633.55 L1343.57 637.18 L1344.94 640.59 L1346.31 633.85 L1347.68 634.62 L1349.05 632.16 L1350.42 635.12 L1351.79 635.65 L1353.16 637.5 L1354.53 633.96 L1355.9 636.52 L1357.27 633.91 L1358.64 634.65 L1360.01 634.92 L1361.38 632.07 L1362.75 633.54 L1364.12 632.27 L1365.49 636.4 L1366.86 634.92 L1368.23 635.27 L1369.6 634.88 L1370.97 633 L1372.34 634.95 L1373.71 634.42 L1375.08 632.54 L1376.45 634.15 L1377.82 637.02 L1379.19 636.72 L1380.56 633.58 L1381.93 633.94 L1383.3 630.76 L1384.67 633.58 L1386.04 631.76 L1387.41 632.37 L1388.78 635.17 L1390.15 631.57 L1391.52 636.68 L1392.89 633.82 L1394.26 635.95 L1395.63 635.49 L1397 632.82 L1398.37 633.19 L1399.74 632.47 L1401.11 634.25 L1402.48 633.36 L1403.85 633.09 L1405.22 636.49 L1406.59 636.32 L1407.96 636.84 L1409.33 634.46 L1410.7 633.32 L1412.07 635.88 L1413.44 634.41 L1414.81 634.31 L1416.18 636.79 L1417.55 635.51 L1418.92 632.61 L1420.29 631.44 L1421.66 633.38 L1423.03 633.21 L1424.4 634.56 L1425.77 636.2 L1427.14 634.44 L1428.51 633.93 L1429.88 631.49 L1431.25 632.93 L1432.62 635.69 L1433.99 633.83 L1435.36 631.66 L1436.73 634.23 L1438.1 631.2 L1439.47 632.24 L1440.84 631.85 L1442.21 634.84 L1443.58 632.18 L1444.95 634.92 L1446.32 636.12 L1447.69 633.56 L1449.06 632.9 L1450.43 631.47 L1451.8 636.51 L1453.17 633.26 L1454.54 634.2 L1455.91 633.36 L1457.28 632.7 L1458.65 633.79 L1460.02 631.04 L1461.39 636.1 L1462.76 632.15 L1464.13 632.96 L1465.5 633.04 L1466.87 632.63 L1468.24 635.08 L1469.61 629.97 L1470.98 633.55 L1472.35 635.24 L1473.72 632.3 L1475.09 632.12 L1476.46 635.02 L1477.83 632.56 L1479.2 630.37 L1480.57 635.54 L1481.94 635.03 L1483.31 631.07 L1484.68 634.67 L1486.05 633.48 L1487.42 631.78 L1488.79 628.77 L1490.16 633.12 L1491.53 634.94 L1492.9 631.55 L1494.27 631.36 L1495.64 631.96 L1497.01 631.86 L1498.38 633.33 L1499.75 635.17 L1501.12 631.04 L1502.49 633.14 L1503.86 634.22 L1505.23 632.13 L1506.6 633.89 L1507.97 632.42 L1509.34 633.44 L1510.71 631.44 L1512.08 630.74 L1513.45 634.18 L1514.82 633.99 L1516.19 631.61 L1517.56 632.77 L1518.93 629.19 L1520.3 631.22 L1521.67 631.12 L1523.04 636.26 L1524.41 631.55 L1525.78 632.8 L1527.15 634.19 L1528.52 631.93 L1529.89 631.89 L1531.26 632.07 L1532.63 633.03 L1534 632.29 L1535.37 631.01 L1536.74 630.17 L1538.11 629.86 L1539.48 631 L1540.85 630.71 L1542.22 629.02 L1543.59 632.36 L1544.96 631.73 L1546.33 631.2 L1547.7 633.13 L1549.07 632.92 L1550.44 632.34 L1551.81 631.45 L1553.18 631.42 L1554.55 631.73 L1555.92 635.34 L1557.29 630.57 L1558.66 631.7 L1560.03 631.13 L1561.4 631.5 L1562.77 632.93 L1564.14 631.56 L1565.51 631.49 L1566.88 629.74 L1568.25 629.72 L1569.62 631.34 L1570.99 631.41 L1572.36 632.66 L1573.73 628.6 L1575.1 631.94 L1576.47 631.99 L1577.84 628.99 L1579.21 630.84 L1580.58 634.83 L1581.95 630.12 L1583.32 627.94 L1584.69 630.77 L1586.06 627.8 L1587.43 630.48 L1588.8 630.73 L1590.17 631.15 L1591.54 632.06 L1592.91 631.13 L1594.28 630.89 L1595.65 630.19 L1597.02 628.95 L1598.39 631.75 L1599.76 629.89 L1601.13 628.75 L1602.5 633.05 L1603.87 630 L1605.24 628.2 L1606.61 631.61 L1607.98 629.89 L1609.35 629.35 L1610.72 632.67 L1612.09 631.91 L1613.46 630.71 L1614.83 630.98 L1616.2 629.19 L1617.57 629.15 L1618.94 632.07 L1620.31 631.48 L1621.68 632.11 L1623.05 629.87 L1624.42 631.86 L1625.79 630.5 L1627.16 631.79 L1628.53 628.83 L1629.9 630.21 L1631.27 627.85 L1632.64 629.49 L1634.01 626.72 L1635.38 631.23 L1636.75 628.63 L1638.12 627.54 L1639.49 629.25 L1640.86 629.95 L1642.23 630.85 L1643.6 626.01 L1644.97 632.12 L1646.34 627.76 L1647.71 629.05 L1649.08 627.27 L1650.45 633.75 L1651.82 628.77 L1653.19 627.3 L1654.56 627.54 L1655.93 627.03 L1657.3 630.23 L1658.67 630.15 L1660.04 627.38 L1661.41 625.34 L1662.78 628.64 L1664.15 628.12 L1665.52 630.1 L1666.89 627.96 L1668.26 628.65 L1669.63 628.75 L1671 627.68 L1672.37 630.38 L1673.74 629.94 L1675.11 628.94 L1676.48 628.38 L1677.85 629.87 L1679.22 628.36 L1680.59 629.05 L1681.96 630.86 L1683.33 628.38 L1684.7 626.86 L1686.07 627.87 L1687.44 628.3 L1688.81 625.53 L1690.18 626.11 L1691.55 627.15 L1692.92 628.58 L1694.29 626.85 L1695.66 629.49 L1697.03 629.06 L1698.4 626.2 L1699.77 626.88 L1701.14 627.95 L1702.51 628.77 L1703.88 628.53 L1705.25 628.99 L1706.62 629.93 L1707.99 628.16 L1709.36 630.17 L1710.73 628.32 L1712.1 625.76 L1713.47 627.47 L1714.84 627.9 L1716.21 628.07 L1717.58 624.07 L1718.95 627.04 L1720.32 627.97 L1721.69 627.72 L1723.06 626.77 L1724.43 626.39 L1725.8 631.57 L1727.17 626.72 L1728.54 626.98 L1729.91 627.84 L1731.28 628.13 L1732.65 629.25 L1734.02 630.3 L1735.39 628.45 L1736.76 631.5 L1738.13 627.83 L1739.5 626.66 L1740.87 630.82 L1742.24 627.99 L1743.61 628.4 L1744.98 626.9 L1746.35 628.21 L1747.72 629.81 L1749.09 630.53 L1750.46 623.87 L1751.83 628.01 L1753.2 628.29 L1754.57 624.72 L1755.94 626.91 L1757.31 625.94 L1758.68 630.99 L1760.05 627.58 L1761.42 625.7 L1762.79 628.92 L1764.16 629.58 L1765.53 627.48 L1766.9 626.19 L1768.27 624.93 L1769.64 628.11 L1771.01 628.38 L1772.38 628.76 L1773.75 630.57 L1775.12 624.21 L1776.49 627.08 L1777.86 628.65 L1779.23 630.81 L1780.6 628.76 L1781.97 628.41 L1783.34 625.89 L1784.71 628 L1786.08 626.5 L1787.45 623.98 L1788.82 623.89 L1790.19 631.38 L1791.56 627.67 L1792.93 624.87 L1794.3 623.8 L1795.67 623.95 L1797.04 628.8 L1798.41 623.93 L1799.78 627.05 L1801.15 630.89 L1802.52 628.26 L1803.89 632.03 L1805.26 626.25 L1806.63 628.64 L1808 628.21 L1809.37 628.16 L1810.74 627.92 L1812.11 629.06 L1813.48 628.56 L1814.85 622.43 L1816.22 628.18 L1817.59 627.54 L1818.96 623.47 L1820.33 628.21 L1821.7 626.79 L1823.07 627.22 L1824.44 627.45 L1825.81 627.27 L1827.18 628.63 L1828.55 626.35 L1829.92 624.15 L1831.29 626.99 L1832.66 629.01 L1834.03 624.34 L1835.4 625.28 L1836.77 626.89 L1838.14 625.1 L1839.51 631.79 L1840.88 626.58 L1842.25 622.25 L1843.62 628.79 L1844.99 625.43 L1846.36 622.96 L1847.73 627.01 L1849.1 626.3 L1850.47 625.15 L1851.84 624.62 L1853.21 628.81 L1854.58 625.23 L1855.95 624.63 L1857.32 626.05 L1858.69 624.26 L1860.06 630.81 L1861.43 627.05 L1862.8 624.41 L1864.17 629.05 L1865.54 628.05 L1866.91 630.1 L1868.28 628.82 L1869.65 624.1 L1871.02 628.86 L1872.39 625.03 L1873.76 627.01 L1875.13 628.6 L1876.5 629.87 L1877.87 627.04 L1879.24 622.19 L1880.61 627.11 L1881.98 626.81 L1883.35 629.52 L1884.72 630.96 L1886.09 628.66 L1887.46 625.94 L1888.83 625.32 L1890.2 630.88 L1891.57 627.89 L1892.94 626.55 L1894.31 634.33 L1895.68 629.76 L1897.05 627.55 L1898.42 624.75 L1899.79 622.98 L1901.16 625.66 L1902.53 628.47 L1903.9 631.08 L1905.27 629.62 L1906.64 624.92 L1908.01 628.73 L1909.38 632.68 L1910.75 625.58 L1912.12 629.65 L1913.49 624.77 L1914.86 627.16 L1916.23 629.92 L1917.6 632.98 L1918.97 630.68 L1920.34 624.36 L1921.71 624.91 L1923.08 627.42 L1924.45 630.55 L1925.82 628.03 L1927.19 629.76 L1928.56 625.53 L1929.93 630.98 L1931.3 626.58 L1932.67 628.55 L1934.04 623.3 L1935.41 628.78 L1936.78 630.75 L1938.15 627.38 L1939.52 626.63 L1940.89 624.52 L1942.26 623.86 L1943.63 623.17 L1945 624.6 L1946.37 630.99 L1947.74 631.54 L1949.11 626.13 L1950.48 630.62 L1951.85 624.69 L1953.22 629.75 L1954.59 629.59 L1955.96 625.74 L1957.33 629.19 L1958.7 624.03 L1960.07 622.19 L1961.44 625.07 L1962.81 625.91 L1964.18 629.5 L1965.55 629.72 L1966.92 629.15 L1968.29 629.96 L1969.66 630.09 L1971.03 630.31 L1972.4 626.29 L1973.77 629.39 L1975.14 623.8 L1976.51 626.21 L1977.88 625.91 L1979.25 629.17 L1980.62 628.28 L1981.99 629.49 L1983.36 621.99 L1984.73 628.71 L1986.1 629.03 L1987.47 627.98 L1988.84 622.63 L1990.21 632.82 L1991.58 627.55 L1992.95 629.19 L1994.32 623.35 L1995.69 626.23 L1997.06 627.14 L1998.43 630.26 L1999.8 623.33 L2001.17 626.8 L2002.54 626.58 L2003.91 628.77 L2005.28 619.8 L2006.65 630.11 L2008.02 625.38 L2009.39 626.59 L2010.76 626.52 L2012.13 631.32 L2013.5 627.6 L2014.87 624.52 L2016.24 624.81 L2017.61 623.4 L2018.98 619.36 L2020.35 618.29 L2021.72 627.42 L2023.09 629.75 L2024.46 625.18 L2025.83 630.4 L2027.2 627.16 L2028.57 628.19 L2029.94 626.62 L2031.31 622.25 L2032.68 622.73 L2034.05 631.52 L2035.42 624.95 L2036.79 622.87 L2038.16 625.24 L2039.53 626.06 L2040.9 615.94 L2042.27 623.98 L2043.64 624.61 L2045.01 627.74 L2046.38 631.03 L2047.75 629.69 L2049.12 620.65 L2050.49 629.71 L2051.86 623.24 L2053.23 619.06 L2054.6 621.19 L2055.97 623.36 L2057.34 623.51 L2058.71 626.28 L2060.08 624.19 L2061.45 626.46 L2062.82 624.06 L2064.19 626.85 L2065.56 627.13 L2066.93 623.73 L2068.3 621.2 L2069.67 623.06 L2071.04 626.85 L2072.41 631.21 L2073.78 624.94 L2075.15 628.68 L2076.52 618.88 L2077.89 622.78 L2079.26 624.69 L2080.63 622.35 L2082 622.59 L2083.37 627.11 L2084.74 627.33 L2086.11 619.43 L2087.48 620.85 L2088.85 619.33 L2090.22 624.54 L2091.59 627.88 L2092.96 617.74 L2094.33 625.01 L2095.7 619.13 L2097.07 623.77 L2098.44 617.16 L2099.81 627.31 L2101.18 619.24 L2102.55 620.97 L2103.92 619.61 L2105.29 620.34 L2106.66 622.54 L2108.03 627.72 L2109.4 627.63 L2110.77 624.04 L2112.14 623.45 L2113.51 616.61 L2114.88 620.86 L2116.25 619.6 L2117.62 625 L2118.99 624.88 L2120.36 626.46 L2121.73 622.69 L2122.7 625.21" fill="none" stroke="#f00" stroke-width="4.7" stroke-linejoin="round" stroke-linecap="butt"/>
<path d="M1301.1 608.29 L1302.47 606.36 L1303.84 606.45 L1305.21 607.89 L1306.58 608.4 L1307.95 609.09 L1309.32 608.46 L1310.69 611.68 L1312.06 608.49 L1313.43 609.23 L1314.8 608.22 L1316.17 607.56 L1317.54 608.45 L1318.91 609.99 L1320.28 606.75 L1321.65 605.02 L1323.02 606.84 L1324.39 609.46 L1325.76 606.65 L1327.13 608.6 L1328.5 610.34 L1329.87 608.99 L1331.24 604.81 L1332.61 608.31 L1333.98 606.78 L1335.35 607.33 L1336.72 605.74 L1338.09 607.82 L1339.46 608.66 L1340.83 606.61 L1342.2 605.15 L1343.57 605.36 L1344.94 609.7 L1346.31 606.7 L1347.68 605.81 L1349.05 607.96 L1350.42 605.5 L1351.79 605.91 L1353.16 604.66 L1354.53 606.7 L1355.9 606.03 L1357.27 607.97 L1358.64 605.43 L1360.01 604.53 L1361.38 603.45 L1362.75 605.68 L1364.12 603.51 L1365.49 604.3 L1366.86 603.24 L1368.23 606.24 L1369.6 602.1 L1370.97 600.99 L1372.34 603.16 L1373.71 602.37 L1375.08 601.9 L1376.45 603.45 L1377.82 602.96 L1379.19 602.48 L1380.56 604.13 L1381.93 600.11 L1383.3 602.41 L1384.67 599.6 L1386.04 600.87 L1387.41 595.69 L1388.78 598.61 L1390.15 600.07 L1391.52 600.37 L1392.89 598.5 L1394.26 596.68 L1395.63 599.54 L1397 600.2 L1398.37 594.6 L1399.74 597.25 L1401.11 597.59 L1402.48 597.15 L1403.85 594.02 L1405.22 596.42 L1406.59 595.84 L1407.96 594.95 L1409.33 596.38 L1410.7 596.19 L1412.07 593.85 L1413.44 596.55 L1414.81 592.26 L1416.18 596.7 L1417.55 591.58 L1418.92 595.12 L1420.29 590.94 L1421.66 593.15 L1423.03 593.33 L1424.4 590.65 L1425.77 592.46 L1427.14 589.55 L1428.51 589.84 L1429.88 590.55 L1431.25 590.15 L1432.62 590.31 L1433.99 590.17 L1435.36 593.02 L1436.73 589.79 L1438.1 588.28 L1439.47 587.7 L1440.84 587.31 L1442.21 587.41 L1443.58 585.65 L1444.95 588.77 L1446.32 586.22 L1447.69 584.02 L1449.06 583.8 L1450.43 585.85 L1451.8 584.69 L1453.17 582.78 L1454.54 581.92 L1455.91 581.52 L1457.28 583.05 L1458.65 581.49 L1460.02 579.08 L1461.39 581.79 L1462.76 576.77 L1464.13 579.08 L1465.5 582.01 L1466.87 580.38 L1468.24 575.38 L1469.61 577.15 L1470.98 576.37 L1472.35 578.69 L1473.72 577.27 L1475.09 578.3 L1476.46 576.79 L1477.83 576.14 L1479.2 573.04 L1480.57 573.36 L1481.94 572.82 L1483.31 570.87 L1484.68 574.49 L1486.05 572.44 L1487.42 568.43 L1488.79 572.08 L1490.16 568.69 L1491.53 570.53 L1492.9 567.83 L1494.27 566.43 L1495.64 565.66 L1497.01 564.3 L1498.38 564.95 L1499.75 562.71 L1501.12 565.39 L1502.49 562.68 L1503.86 562.86 L1505.23 563.09 L1506.6 559.88 L1507.97 558.57 L1509.34 563.04 L1510.71 556.88 L1512.08 557.58 L1513.45 558.89 L1514.82 558.09 L1516.19 556.15 L1517.56 554.05 L1518.93 557.13 L1520.3 555.47 L1521.67 553.7 L1523.04 552.85 L1524.41 553.67 L1525.78 553.5 L1527.15 550.95 L1528.52 550.09 L1529.89 550.29 L1531.26 544.73 L1532.63 550.17 L1534 544.96 L1535.37 545.73 L1536.74 546.1 L1538.11 544.14 L1539.48 545.47 L1540.85 545.85 L1542.22 541.98 L1543.59 542.17 L1544.96 541.13 L1546.33 541.2 L1547.7 538.51 L1549.07 537.44 L1550.44 536.4 L1551.81 536.09 L1553.18 536.58 L1554.55 532.47 L1555.92 534.48 L1557.29 532.16 L1558.66 531.01 L1560.03 527.79 L1561.4 528.2 L1562.77 530.29 L1564.14 526.87 L1565.51 529.13 L1566.88 524.39 L1568.25 522.79 L1569.62 524.31 L1570.99 521.32 L1572.36 522.7 L1573.73 522.55 L1575.1 520.73 L1576.47 519.05 L1577.84 516.55 L1579.21 517.85 L1580.58 516.85 L1581.95 514.71 L1583.32 513.89 L1584.69 512.26 L1586.06 512.53 L1587.43 511.34 L1588.8 509.98 L1590.17 510.02 L1591.54 509.34 L1592.91 508.03 L1594.28 506.65 L1595.65 505.28 L1597.02 506.01 L1598.39 503.84 L1599.76 504.51 L1601.13 502.75 L1602.5 503.54 L1603.87 499.98 L1605.24 498.97 L1606.61 498.82 L1607.98 497.75 L1609.35 496.24 L1610.72 495.49 L1612.09 495.43 L1613.46 493.55 L1614.83 490.53 L1616.2 490.35 L1617.57 493.08 L1618.94 488.9 L1620.31 488.79 L1621.68 487.7 L1623.05 486.85 L1624.42 486.45 L1625.79 487.29 L1627.16 484.96 L1628.53 483.47 L1629.9 483.5 L1631.27 483.5 L1632.64 479.48 L1634.01 483.69 L1635.38 478.58 L1636.75 480.22 L1638.12 481.26 L1639.49 479.79 L1640.86 479.54 L1642.23 478.1 L1643.6 475.93 L1644.97 479.01 L1646.34 480.66 L1647.71 475.7 L1649.08 474.54 L1650.45 473.75 L1651.82 473.11 L1653.19 472.29 L1654.56 473.37 L1655.93 470.24 L1657.3 472.91 L1658.67 468.75 L1660.04 467.32 L1661.41 468.18 L1662.78 468.47 L1664.15 467.25 L1665.52 467.58 L1666.89 466.11 L1668.26 465.31 L1669.63 465.25 L1671 463.63 L1672.37 463.69 L1673.74 463.65 L1675.11 460.95 L1676.48 465.71 L1677.85 459.72 L1679.22 461.95 L1680.59 462.55 L1681.96 461.59 L1683.33 462.74 L1684.7 461.11 L1686.07 459.56 L1687.44 460.43 L1688.81 460.99 L1690.18 461.55 L1691.55 458.79 L1692.92 459.97 L1694.29 458.62 L1695.66 456.4 L1697.03 454.89 L1698.4 456.66 L1699.77 455.95 L1701.14 453.84 L1702.51 457.43 L1703.88 458.16 L1705.25 457.63 L1706.62 454.66 L1707.99 455.3 L1709.36 454.18 L1710.73 455.87 L1712.1 455.66 L1713.47 455.82 L1714.84 455.34 L1716.21 457.79 L1717.58 456.15 L1718.95 455.91 L1720.32 456.08 L1721.69 458.63 L1723.06 455.9 L1724.43 457.33 L1725.8 455.14 L1727.17 458.05 L1728.54 456.89 L1729.91 454.3 L1731.28 458.74 L1732.65 455.26 L1734.02 455.87 L1735.39 458.56 L1736.76 459.06 L1738.13 458.32 L1739.5 458.43 L1740.87 458.39 L1742.24 459.02 L1743.61 458.72 L1744.98 458.54 L1746.35 461.93 L1747.72 460.13 L1749.09 462.83 L1750.46 463.6 L1751.83 462.78 L1753.2 462.68 L1754.57 460.65 L1755.94 461.41 L1757.31 461.79 L1758.68 462.57 L1760.05 465.13 L1761.42 462.83 L1762.79 466.47 L1764.16 467.97 L1765.53 467.92 L1766.9 469.48 L1768.27 464.99 L1769.64 469.94 L1771.01 471.55 L1772.38 472.29 L1773.75 473.4 L1775.12 474.05 L1776.49 474.94 L1777.86 476.39 L1779.23 479.22 L1780.6 477.26 L1781.97 479.55 L1783.34 482.56 L1784.71 482.16 L1786.08 483.6 L1787.45 483.2 L1788.82 484.79 L1790.19 487.63 L1791.56 484.99 L1792.93 488.07 L1794.3 491.13 L1795.67 492.24 L1797.04 493.55 L1798.41 495.37 L1799.78 493.18 L1801.15 494.52 L1802.52 497.94 L1803.89 497.87 L1805.26 498.5 L1806.63 502.33 L1808 504.64 L1809.37 506.35 L1810.74 506.98 L1812.11 507.72 L1813.48 512.32 L1814.85 510.7 L1816.22 512 L1817.59 513.46 L1818.96 515.39 L1820.33 516.71 L1821.7 518.81 L1823.07 518.71 L1824.44 521.77 L1825.81 523.73 L1827.18 524.77 L1828.55 525.13 L1829.92 525.83 L1831.29 530.15 L1832.66 528.97 L1834.03 532.48 L1835.4 534.25 L1836.77 529.7 L1838.14 535.22 L1839.51 535.17 L1840.88 534.69 L1842.25 538.25 L1843.62 539.45 L1844.99 540.06 L1846.36 541.92 L1847.73 541.72 L1849.1 542.91 L1850.47 546.56 L1851.84 545.77 L1853.21 544.81 L1854.58 543.91 L1855.95 547.27 L1857.32 547.1 L1858.69 548.92 L1860.06 552.01 L1861.43 551.6 L1862.8 552.42 L1864.17 553.81 L1865.54 557.96 L1866.91 558.54 L1868.28 557.4 L1869.65 557.37 L1871.02 559.53 L1872.39 557.98 L1873.76 558.68 L1875.13 561.41 L1876.5 561.45 L1877.87 562.67 L1879.24 564.21 L1880.61 565.02 L1881.98 566.78 L1883.35 565.43 L1884.72 567.63 L1886.09 568.78 L1887.46 570.45 L1888.83 570.09 L1890.2 569.19 L1891.57 568.23 L1892.94 571.69 L1894.31 570.61 L1895.68 573.28 L1897.05 574.32 L1898.42 573.48 L1899.79 576.02 L1901.16 577.05 L1902.53 575.29 L1903.9 577.11 L1905.27 577.5 L1906.64 575.47 L1908.01 577.99 L1909.38 580.28 L1910.75 580.39 L1912.12 582.09 L1913.49 579.82 L1914.86 581.48 L1916.23 581.35 L1917.6 582.45 L1918.97 582.88 L1920.34 584.52 L1921.71 585.4 L1923.08 585.92 L1924.45 585.02 L1925.82 586.78 L1927.19 585.69 L1928.56 587.34 L1929.93 589.67 L1931.3 590.31 L1932.67 589.12 L1934.04 587.19 L1935.41 589.95 L1936.78 592.45 L1938.15 591.39 L1939.52 591.25 L1940.89 591.09 L1942.26 590.85 L1943.63 589.69 L1945 591.36 L1946.37 590.76 L1947.74 593.32 L1949.11 594.17 L1950.48 592.84 L1951.85 592.36 L1953.22 592.61 L1954.59 593.9 L1955.96 595.56 L1957.33 595.03 L1958.7 590.72 L1960.07 594.36 L1961.44 598.5 L1962.81 595.81 L1964.18 596.11 L1965.55 596.38 L1966.92 594.64 L1968.29 592.7 L1969.66 597.49 L1971.03 592.44 L1972.4 596.88 L1973.77 595.76 L1975.14 595.91 L1976.51 593.16 L1977.88 596.24 L1979.25 593.84 L1980.62 593.68 L1981.99 593.99 L1983.36 595.05 L1984.73 594.17 L1986.1 595.43 L1987.47 597.51 L1988.84 596.38 L1990.21 593.92 L1991.58 597.12 L1992.95 594.09 L1994.32 593.61 L1995.69 598.21 L1997.06 595.32 L1998.43 592.78 L1999.8 596.7 L2001.17 595.63 L2002.54 596.44 L2003.91 595.75 L2005.28 591.8 L2006.65 593.36 L2008.02 597.06 L2009.39 592.61 L2010.76 592.91 L2012.13 592.41 L2013.5 591.95 L2014.87 594.54 L2016.24 594.02 L2017.61 593.43 L2018.98 593.15 L2020.35 591.57 L2021.72 594.41 L2023.09 595.66 L2024.46 594.41 L2025.83 590.59 L2027.2 593.33 L2028.57 592.53 L2029.94 591.31 L2031.31 588.92 L2032.68 590.46 L2034.05 591.82 L2035.42 590.34 L2036.79 589.1 L2038.16 590.81 L2039.53 590.29 L2040.9 588.57 L2042.27 592.19 L2043.64 592.28 L2045.01 591.52 L2046.38 587 L2047.75 593.51 L2049.12 592.69 L2050.49 586.1 L2051.86 589.19 L2053.23 592.84 L2054.6 592.46 L2055.97 582.88 L2057.34 587.53 L2058.71 586.73 L2060.08 587.66 L2061.45 588.75 L2062.82 592.07 L2064.19 589 L2065.56 588.9 L2066.93 585.3 L2068.3 589.77 L2069.67 588.18 L2071.04 586.6 L2072.41 588.46 L2073.78 585.63 L2075.15 582.22 L2076.52 582.81 L2077.89 589.99 L2079.26 586.39 L2080.63 585.97 L2082 592.91 L2083.37 582.12 L2084.74 583.5 L2086.11 582.48 L2087.48 580.63 L2088.85 583.95 L2090.22 582.25 L2091.59 583.63 L2092.96 574.08 L2094.33 583.56 L2095.7 583.7 L2097.07 584.2 L2098.44 579.44 L2099.81 581.07 L2101.18 576.9 L2102.55 572.86 L2103.92 585.41 L2105.29 579.55 L2106.66 578.62 L2108.03 580.96 L2109.4 573.36 L2110.77 574.49 L2112.14 582.35 L2113.51 578.27 L2114.88 583.42 L2116.25 576.88 L2117.62 581.57 L2118.99 575.05 L2120.36 575.47 L2121.73 573.12 L2122.7 575.93" fill="none" stroke="#00f" stroke-width="4.7" stroke-linejoin="round" stroke-linecap="butt"/>
<path d="M1301.1 609.56 L1303.84 609.18 L1306.58 608.25 L1309.32 608.33 L1312.06 608.84 L1314.8 608.34 L1317.54 608.53 L1320.28 609.51 L1323.02 609.45 L1325.76 609.02 L1328.5 608.97 L1331.24 608.31 L1333.98 607.38 L1336.72 607.21 L1339.46 607.23 L1342.2 608.12 L1344.94 606.97 L1347.68 606.34 L1350.42 606.37 L1353.16 605.37 L1355.9 605.71 L1358.64 604.76 L1361.38 604.25 L1364.12 605.01 L1366.86 604.37 L1369.6 603.87 L1372.34 602.97 L1375.08 601.5 L1377.82 601.73 L1380.56 600.7 L1383.3 598.97 L1386.04 599.15 L1388.78 599.11 L1391.52 598.83 L1394.26 597.58 L1397 596.33 L1399.74 596.72 L1402.48 596.2 L1405.22 595.39 L1407.96 594.3 L1410.7 593.49 L1413.44 592.8 L1416.18 591.78 L1418.92 591.86 L1421.66 590.8 L1424.4 589.66 L1427.14 589.71 L1429.88 589.16 L1432.62 587.61 L1435.36 587.33 L1438.1 588 L1440.84 586.61 L1443.58 585 L1446.32 584.29 L1449.06 582.94 L1451.8 582.34 L1454.54 582.39 L1457.28 581.26 L1460.02 580.4 L1462.76 579.18 L1465.5 578.63 L1468.24 578.85 L1470.98 576.31 L1473.72 574.24 L1476.46 574.44 L1479.2 573.39 L1481.94 571.54 L1484.68 570.54 L1487.42 570.35 L1490.16 568.91 L1492.9 566.67 L1495.64 565.9 L1498.38 564.37 L1501.12 562.46 L1503.86 560.87 L1506.6 559.11 L1509.34 557.21 L1512.08 556.39 L1514.82 555.45 L1517.56 553.73 L1520.3 551.64 L1523.04 548.84 L1525.78 547.27 L1528.52 545.48 L1531.26 543.51 L1534 541.81 L1536.74 540.4 L1539.48 539.03 L1542.22 537.4 L1544.96 535.82 L1547.7 534.17 L1550.44 532.33 L1553.18 530.01 L1555.92 528.42 L1558.66 526.34 L1561.4 522.93 L1564.14 521.55 L1566.88 520.44 L1569.62 517.16 L1572.36 514.82 L1575.1 512.51 L1577.84 509.14 L1580.58 506.09 L1583.32 504.29 L1586.06 502.07 L1588.8 499.38 L1591.54 496.85 L1594.28 494.59 L1597.02 492.34 L1599.76 490.27 L1602.5 488.83 L1605.24 486.57 L1607.98 483.99 L1610.72 482.23 L1613.46 480.72 L1616.2 477.78 L1618.94 474.65 L1621.68 473.14 L1624.42 471.62 L1627.16 468.57 L1629.9 467.05 L1632.64 466.52 L1635.38 465.37 L1638.12 463.72 L1640.86 461.29 L1643.6 458.75 L1646.34 457.05 L1649.08 456.77 L1651.82 455.18 L1654.56 452.18 L1657.3 450.38 L1660.04 449.84 L1662.78 449.05 L1665.52 447.22 L1668.26 445.21 L1671 443.78 L1673.74 443.3 L1676.48 442.22 L1679.22 441.73 L1681.96 441.3 L1684.7 439.41 L1687.44 437.82 L1690.18 438.13 L1692.92 437.72 L1695.66 436.57 L1698.4 435.72 L1701.14 434.96 L1703.88 434.67 L1706.62 434.74 L1709.36 434.83 L1712.1 433.65 L1714.84 433.5 L1717.58 434.5 L1720.32 433.09 L1723.06 432.77 L1725.8 434.29 L1728.54 435.5 L1731.28 436.2 L1734.02 434.28 L1736.76 435.39 L1739.5 438.16 L1742.24 438.38 L1744.98 439.46 L1747.72 440.67 L1750.46 441.06 L1753.2 441.76 L1755.94 442 L1758.68 443.11 L1761.42 445.16 L1764.16 446.29 L1766.9 448.54 L1769.64 452.16 L1772.38 453.72 L1775.12 454.63 L1777.86 456.89 L1780.6 459.98 L1783.34 462.72 L1786.08 465.1 L1788.82 468.14 L1791.56 471.34 L1794.3 473.58 L1797.04 476.13 L1799.78 479.82 L1802.52 481.65 L1805.26 483.07 L1808 486.61 L1810.74 490.24 L1813.48 494.27 L1816.22 497.9 L1818.96 500.63 L1821.7 503.86 L1824.44 506.72 L1827.18 508.84 L1829.92 511.4 L1832.66 514.62 L1835.4 516.86 L1838.14 520.09 L1840.88 523.21 L1843.62 525.17 L1846.36 528.62 L1849.1 532.07 L1851.84 535.69 L1854.58 538.26 L1857.32 539.47 L1860.06 542.37 L1862.8 544.89 L1865.54 547.29 L1868.28 549.55 L1871.02 551.48 L1873.76 553.72 L1876.5 554.4 L1879.24 555.56 L1881.98 559.15 L1884.72 562.42 L1887.46 563.68 L1890.2 565.5 L1892.94 567.59 L1895.68 569.23 L1898.42 571.08 L1901.16 571.27 L1903.9 572.29 L1906.64 574.66 L1909.38 576.42 L1912.12 578.11 L1914.86 579.58 L1917.6 580.81 L1920.34 580.72 L1923.08 582.19 L1925.82 584.48 L1928.56 584.84 L1931.3 586.23 L1934.04 586.8 L1936.78 586.65 L1939.52 586.85 L1942.26 588.69 L1945 590.33 L1947.74 591.28 L1950.48 592.4 L1953.22 592.84 L1955.96 594.65 L1958.7 595.05 L1961.44 595.57 L1964.18 596.16 L1966.92 597.68 L1969.66 599.55 L1972.4 598.05 L1975.14 597.31 L1977.88 597.31 L1980.62 597.04 L1983.36 596.39 L1986.1 596.02 L1988.84 595.88 L1991.58 595.47 L1994.32 596.09 L1997.06 595.29 L1999.8 594.37 L2002.54 594.1 L2005.28 593.42 L2008.02 593.21 L2010.76 591.8 L2013.5 590.03 L2016.24 591.1 L2018.98 592.05 L2021.72 591.4 L2024.46 591.44 L2027.2 590.53 L2029.94 589.62 L2032.68 589.24 L2035.42 588.28 L2038.16 587.51 L2040.9 588.19 L2043.64 588.98 L2046.38 587.89 L2049.12 586.39 L2051.86 586.42 L2054.6 586.1 L2057.34 584.57 L2060.08 583.92 L2062.82 583.72 L2065.56 583.16 L2068.3 582.86 L2071.04 581.77 L2073.78 581.03 L2076.52 580.4 L2079.26 578.54 L2082 577.37 L2084.74 576.37 L2087.48 575.22 L2090.22 573.53 L2092.96 572.27 L2095.7 570.91 L2098.44 569.94 L2101.18 568.82 L2103.92 566.64 L2106.66 566.61 L2109.4 565.34 L2112.14 563.52 L2114.88 563.23 L2117.62 562.97 L2120.36 563.02 L2122.7 561.71" fill="none" stroke="#008787" stroke-width="4.7" stroke-linejoin="round" stroke-linecap="butt"/>
<path d="M1301.1 594.92 L1303.84 593.97 L1306.58 593.76 L1309.32 592.75 L1312.06 591.65 L1314.8 591.73 L1317.54 592.22 L1320.28 591.62 L1323.02 589.86 L1325.76 588.84 L1328.5 588.46 L1331.24 586.7 L1333.98 585.52 L1336.72 585.2 L1339.46 584.94 L1342.2 584.35 L1344.94 582.86 L1347.68 581.89 L1350.42 581.47 L1353.16 581.25 L1355.9 580.98 L1358.64 579.32 L1361.38 577.92 L1364.12 577.35 L1366.86 576.28 L1369.6 575.58 L1372.34 574.22 L1375.08 573.55 L1377.82 573.48 L1380.56 571.29 L1383.3 570.06 L1386.04 569.51 L1388.78 569.26 L1391.52 568.91 L1394.26 566.76 L1397 565.2 L1399.74 565 L1402.48 564.91 L1405.22 564 L1407.96 562.28 L1410.7 561.46 L1413.44 560.9 L1416.18 558.74 L1418.92 556.84 L1421.66 556.22 L1424.4 554.88 L1427.14 551.91 L1429.88 551.39 L1432.62 550.99 L1435.36 549.04 L1438.1 547.59 L1440.84 546.65 L1443.58 545.24 L1446.32 543.33 L1449.06 540.99 L1451.8 540.04 L1454.54 540.25 L1457.28 537.24 L1460.02 534.5 L1462.76 532.55 L1465.5 531.4 L1468.24 529.02 L1470.98 524.93 L1473.72 522.25 L1476.46 521.4 L1479.2 521.07 L1481.94 518.27 L1484.68 514.98 L1487.42 513.34 L1490.16 511.05 L1492.9 508.09 L1495.64 505.22 L1498.38 501.62 L1501.12 498.44 L1503.86 496.35 L1506.6 492.99 L1509.34 490.11 L1512.08 488.44 L1514.82 486.12 L1517.56 483.27 L1520.3 480.19 L1523.04 477.23 L1525.78 474.82 L1528.52 472 L1531.26 468.31 L1534 464.71 L1536.74 462.24 L1539.48 457.86 L1542.22 453.92 L1544.96 451.57 L1547.7 447.7 L1550.44 444.55 L1553.18 441.7 L1555.92 438.62 L1558.66 434.24 L1561.4 430.95 L1564.14 427.06 L1566.88 422.61 L1569.62 419.46 L1572.36 415.25 L1575.1 411.89 L1577.84 408.45 L1580.58 404.04 L1583.32 399.14 L1586.06 393.96 L1588.8 391.14 L1591.54 387.58 L1594.28 382.92 L1597.02 379.91 L1599.76 376.03 L1602.5 372.3 L1605.24 368.75 L1607.98 364.59 L1610.72 360.87 L1613.46 356.89 L1616.2 352.76 L1618.94 349.6 L1621.68 346.1 L1624.42 342.84 L1627.16 340.69 L1629.9 336.65 L1632.64 331.68 L1635.38 329.02 L1638.12 325.55 L1640.86 321.05 L1643.6 319.12 L1646.34 315.64 L1649.08 311.76 L1651.82 308.62 L1654.56 305.65 L1657.3 303.51 L1660.04 300.65 L1662.78 298.06 L1665.52 295.12 L1668.26 290.76 L1671 288.05 L1673.74 287.09 L1676.48 284.65 L1679.22 281.92 L1681.96 279.77 L1684.7 277.87 L1687.44 274.93 L1690.18 273.3 L1692.92 272.64 L1695.66 270.75 L1698.4 268.79 L1701.14 267.91 L1703.88 267.59 L1706.62 265.99 L1709.36 264.7 L1712.1 264.49 L1714.84 264.23 L1717.58 263.9 L1720.32 265.06 L1723.06 265.9 L1725.8 266 L1728.54 266.19 L1731.28 264.87 L1734.02 265.86 L1736.76 268.14 L1739.5 269.63 L1742.24 270.19 L1744.98 270.72 L1747.72 273.02 L1750.46 275.95 L1753.2 277.45 L1755.94 279.6 L1758.68 282.7 L1761.42 284.51 L1764.16 288.08 L1766.9 291.16 L1769.64 292.45 L1772.38 294.95 L1775.12 298.36 L1777.86 301 L1780.6 303.2 L1783.34 306.19 L1786.08 309.05 L1788.82 312.46 L1791.56 317.21 L1794.3 321.65 L1797.04 326.04 L1799.78 329.63 L1802.52 333.51 L1805.26 339 L1808 342.22 L1810.74 344.5 L1813.48 349.89 L1816.22 355.19 L1818.96 360.1 L1821.7 364.56 L1824.44 368.82 L1827.18 374.12 L1829.92 378.86 L1832.66 383.23 L1835.4 387.93 L1838.14 392.25 L1840.88 396.41 L1843.62 401.08 L1846.36 405.68 L1849.1 410.51 L1851.84 415.52 L1854.58 419.96 L1857.32 423.13 L1860.06 426.56 L1862.8 430.86 L1865.54 435.93 L1868.28 439.88 L1871.02 443.18 L1873.76 446.47 L1876.5 450.43 L1879.24 455.02 L1881.98 457.99 L1884.72 460.6 L1887.46 465.02 L1890.2 468.37 L1892.94 470.02 L1895.68 473.54 L1898.42 477.16 L1901.16 478.95 L1903.9 480.21 L1906.64 483.76 L1909.38 486.21 L1912.12 487.84 L1914.86 490.81 L1917.6 493.39 L1920.34 494.97 L1923.08 497.26 L1925.82 499.47 L1928.56 500.98 L1931.3 501.82 L1934.04 502.19 L1936.78 503.93 L1939.52 505.59 L1942.26 507.77 L1945 509.15 L1947.74 509.59 L1950.48 511.46 L1953.22 513.39 L1955.96 513.74 L1958.7 513.35 L1961.44 513.35 L1964.18 514.63 L1966.92 515.69 L1969.66 515.92 L1972.4 517.07 L1975.14 517.02 L1977.88 517.1 L1980.62 518.51 L1983.36 517.74 L1986.1 516.98 L1988.84 517.82 L1991.58 518.25 L1994.32 517.58 L1997.06 517.67 L1999.8 518.6 L2002.54 517.77 L2005.28 516.7 L2008.02 516.67 L2010.76 516.37 L2013.5 515.87 L2016.24 515.48 L2018.98 514.22 L2021.72 514.2 L2024.46 513.03 L2027.2 510.99 L2029.94 512.1 L2032.68 512.01 L2035.42 511.05 L2038.16 511.04 L2040.9 508.7 L2043.64 506.09 L2046.38 504.79 L2049.12 505.16 L2051.86 505 L2054.6 503.01 L2057.34 502.9 L2060.08 501.71 L2062.82 498.61 L2065.56 497.67 L2068.3 497.64 L2071.04 495.7 L2073.78 496.18 L2076.52 495.44 L2079.26 492.07 L2082 491.62 L2084.74 490.15 L2087.48 487.8 L2090.22 486.85 L2092.96 484.52 L2095.7 485.19 L2098.44 483.97 L2101.18 479.37 L2103.92 476.86 L2106.66 475.44 L2109.4 473.17 L2112.14 470.55 L2114.88 470.34 L2117.62 468.85 L2120.36 466.96 L2122.7 464.67" fill="none" stroke="#f0f" stroke-width="4.7" stroke-linejoin="round" stroke-linecap="butt"/>
<path d="M1301.1 632.29 L1303.84 632.77 L1306.58 631.53 L1309.32 630.81 L1312.06 630.27 L1314.8 628.55 L1317.54 628.22 L1320.28 628.27 L1323.02 627.1 L1325.76 626.68 L1328.5 626.68 L1331.24 625.2 L1333.98 624.04 L1336.72 624.16 L1339.46 623.74 L1342.2 623.28 L1344.94 623.33 L1347.68 624.18 L1350.42 622.93 L1353.16 621.74 L1355.9 621.87 L1358.64 620.35 L1361.38 620.62 L1364.12 621.96 L1366.86 621.19 L1369.6 618.21 L1372.34 617.27 L1375.08 617.12 L1377.82 615.49 L1380.56 615.43 L1383.3 615.59 L1386.04 616.36 L1388.78 616.12 L1391.52 613.66 L1394.26 614.28 L1397 614.3 L1399.74 611.93 L1402.48 610.03 L1405.22 610.02 L1407.96 610.83 L1410.7 610.87 L1413.44 610.69 L1416.18 609.59 L1418.92 607.89 L1421.66 607.47 L1424.4 607.65 L1427.14 605.77 L1429.88 604.05 L1432.62 603.22 L1435.36 602.07 L1438.1 601.88 L1440.84 601.23 L1443.58 599.72 L1446.32 599.21 L1449.06 599.34 L1451.8 599 L1454.54 596.91 L1457.28 593.72 L1460.02 593.23 L1462.76 593.54 L1465.5 592.16 L1468.24 591.99 L1470.98 590.79 L1473.72 588.54 L1476.46 587.67 L1479.2 585.3 L1481.94 583.62 L1484.68 582.85 L1487.42 581 L1490.16 580.15 L1492.9 579.65 L1495.64 579.35 L1498.38 577.95 L1501.12 576.17 L1503.86 576.45 L1506.6 575.37 L1509.34 572.9 L1512.08 570.35 L1514.82 568.18 L1517.56 566.92 L1520.3 564.86 L1523.04 563.77 L1525.78 563.4 L1528.52 561.16 L1531.26 559.04 L1534 557.08 L1536.74 556.15 L1539.48 555.96 L1542.22 552.07 L1544.96 549.13 L1547.7 547.78 L1550.44 546.51 L1553.18 544.38 L1555.92 541.61 L1558.66 540.4 L1561.4 537.51 L1564.14 536.36 L1566.88 534.79 L1569.62 531.31 L1572.36 529.72 L1575.1 526.76 L1577.84 525.21 L1580.58 524.66 L1583.32 521.03 L1586.06 518.78 L1588.8 516.49 L1591.54 513.98 L1594.28 512.18 L1597.02 511.39 L1599.76 508.31 L1602.5 504.15 L1605.24 502.26 L1607.98 500.29 L1610.72 499.62 L1613.46 497.18 L1616.2 495.05 L1618.94 491.63 L1621.68 489.89 L1624.42 490.43 L1627.16 488.45 L1629.9 485.8 L1632.64 482.21 L1635.38 480.38 L1638.12 479.33 L1640.86 477.86 L1643.6 475.41 L1646.34 474.99 L1649.08 475.69 L1651.82 473.31 L1654.56 470.9 L1657.3 469.82 L1660.04 469.55 L1662.78 466.66 L1665.52 463.57 L1668.26 464.25 L1671 463.53 L1673.74 461.48 L1676.48 460.38 L1679.22 458.4 L1681.96 456.87 L1684.7 457.86 L1687.44 456.78 L1690.18 454.37 L1692.92 454.17 L1695.66 454.18 L1698.4 454.13 L1701.14 452.68 L1703.88 452.01 L1706.62 453.29 L1709.36 451.76 L1712.1 451.12 L1714.84 451.5 L1717.58 450.16 L1720.32 449.52 L1723.06 450.63 L1725.8 453.53 L1728.54 452.43 L1731.28 451.38 L1734.02 452.76 L1736.76 452.37 L1739.5 453.36 L1742.24 454.25 L1744.98 454.54 L1747.72 455.69 L1750.46 455.62 L1753.2 457.64 L1755.94 459.24 L1758.68 459.06 L1761.42 459.93 L1764.16 460.73 L1766.9 462.52 L1769.64 464.63 L1772.38 468.02 L1775.12 471.52 L1777.86 472.62 L1780.6 473.41 L1783.34 476.21 L1786.08 478.53 L1788.82 480.42 L1791.56 484.33 L1794.3 488.58 L1797.04 490.23 L1799.78 491.3 L1802.52 494.53 L1805.26 497.62 L1808 500.49 L1810.74 504.03 L1813.48 506.08 L1816.22 508.1 L1818.96 511.91 L1821.7 515.72 L1824.44 517.89 L1827.18 518.88 L1829.92 520.93 L1832.66 524.66 L1835.4 527.4 L1838.14 529.34 L1840.88 532.1 L1843.62 534.03 L1846.36 537.05 L1849.1 540.3 L1851.84 541.25 L1854.58 542.22 L1857.32 545.02 L1860.06 547.44 L1862.8 550.1 L1865.54 552.99 L1868.28 553.63 L1871.02 554.4 L1873.76 555.3 L1876.5 556.83 L1879.24 558.38 L1881.98 560.34 L1884.72 563.64 L1887.46 564.75 L1890.2 565.86 L1892.94 568.44 L1895.68 569.52 L1898.42 570.45 L1901.16 574.23 L1903.9 575.61 L1906.64 575.09 L1909.38 577.57 L1912.12 578.8 L1914.86 578.21 L1917.6 579.59 L1920.34 580.51 L1923.08 581.33 L1925.82 583.06 L1928.56 582.84 L1931.3 582.92 L1934.04 583.63 L1936.78 583.89 L1939.52 585.4 L1942.26 587.52 L1945 588.02 L1947.74 587.88 L1950.48 589.01 L1953.22 590.51 L1955.96 590.1 L1958.7 590.66 L1961.44 591.19 L1964.18 590.79 L1966.92 592.51 L1969.66 591.67 L1972.4 591.34 L1975.14 591.81 L1977.88 590.08 L1980.62 590.59 L1983.36 589.94 L1986.1 590.55 L1988.84 592.34 L1991.58 591.06 L1994.32 589.52 L1997.06 589.34 L1999.8 588.26 L2002.54 588.04 L2005.28 589.73 L2008.02 588.97 L2010.76 586.82 L2013.5 585.33 L2016.24 585.86 L2018.98 584.28 L2021.72 583.86 L2024.46 585.48 L2027.2 582.75 L2029.94 582.29 L2032.68 582.68 L2035.42 582.1 L2038.16 582.51 L2040.9 580.81 L2043.64 580.26 L2046.38 579.25 L2049.12 579.02 L2051.86 578.97 L2054.6 577.28 L2057.34 577.08 L2060.08 576.36 L2062.82 573.45 L2065.56 574.01 L2068.3 576.01 L2071.04 574.78 L2073.78 574.27 L2076.52 573.65 L2079.26 572.68 L2082 571.19 L2084.74 568.42 L2087.48 568 L2090.22 567.97 L2092.96 567 L2095.7 566.45 L2098.44 564.39 L2101.18 563.72 L2103.92 563.03 L2106.66 563.55 L2109.4 561.76 L2112.14 557.5 L2114.88 557.81 L2117.62 558.53 L2120.36 556.69 L2122.7 557" fill="none" stroke="#808000" stroke-width="4.7" stroke-linejoin="round" stroke-linecap="butt"/>
</g>
<line x1="1720.4" y1="220" x2="1716.6" y2="610" stroke="#c8641e" stroke-width="4.6" stroke-dasharray="14.5 5.2"/>
<rect x="1301.1" y="53.5" width="821.6" height="611.3" fill="none" stroke="#000" stroke-width="4.7" stroke-linejoin="round"/>
<line x1="1301.1" y1="664.8" x2="1289.1" y2="664.8" stroke="#000" stroke-width="4.7" stroke-linecap="round"/>
<text x="1281" y="679.2" font-family='"Liberation Sans", Arial, Helvetica, sans-serif' font-size="54.5" text-anchor="end" fill="#000" stroke="#000" stroke-width="0.44">0.00</text>
<line x1="1301.1" y1="528.96" x2="1289.1" y2="528.96" stroke="#000" stroke-width="4.7" stroke-linecap="round"/>
<text x="1281" y="543.36" font-family='"Liberation Sans", Arial, Helvetica, sans-serif' font-size="54.5" text-anchor="end" fill="#000" stroke="#000" stroke-width="0.44">0.04</text>
<line x1="1301.1" y1="393.11" x2="1289.1" y2="393.11" stroke="#000" stroke-width="4.7" stroke-linecap="round"/>
<text x="1281" y="407.51" font-family='"Liberation Sans", Arial, Helvetica, sans-serif' font-size="54.5" text-anchor="end" fill="#000" stroke="#000" stroke-width="0.44">0.08</text>
<line x1="1301.1" y1="257.27" x2="1289.1" y2="257.27" stroke="#000" stroke-width="4.7" stroke-linecap="round"/>
<text x="1281" y="271.67" font-family='"Liberation Sans", Arial, Helvetica, sans-serif' font-size="54.5" text-anchor="end" fill="#000" stroke="#000" stroke-width="0.44">0.12</text>
<line x1="1301.1" y1="121.42" x2="1289.1" y2="121.42" stroke="#000" stroke-width="4.7" stroke-linecap="round"/>
<text x="1281" y="135.82" font-family='"Liberation Sans", Arial, Helvetica, sans-serif' font-size="54.5" text-anchor="end" fill="#000" stroke="#000" stroke-width="0.44">0.16</text>
<line x1="1301.1" y1="596.88" x2="1294.6" y2="596.88" stroke="#000" stroke-width="4.7" stroke-linecap="round"/>
<line x1="1301.1" y1="461.03" x2="1294.6" y2="461.03" stroke="#000" stroke-width="4.7" stroke-linecap="round"/>
<line x1="1301.1" y1="325.19" x2="1294.6" y2="325.19" stroke="#000" stroke-width="4.7" stroke-linecap="round"/>
<line x1="1301.1" y1="189.34" x2="1294.6" y2="189.34" stroke="#000" stroke-width="4.7" stroke-linecap="round"/>
<line x1="1301.1" y1="53.5" x2="1294.6" y2="53.5" stroke="#000" stroke-width="4.7" stroke-linecap="round"/>
<line x1="1301.1" y1="664.8" x2="1301.1" y2="676.8" stroke="#000" stroke-width="4.7" stroke-linecap="round"/>
<text x="1301.1" y="726" font-family='"Liberation Sans", Arial, Helvetica, sans-serif' font-size="53" text-anchor="middle" fill="#000" stroke="#000" stroke-width="0.42">500</text>
<line x1="1574.97" y1="664.8" x2="1574.97" y2="676.8" stroke="#000" stroke-width="4.7" stroke-linecap="round"/>
<text x="1574.97" y="726" font-family='"Liberation Sans", Arial, Helvetica, sans-serif' font-size="53" text-anchor="middle" fill="#000" stroke="#000" stroke-width="0.42">600</text>
<line x1="1848.83" y1="664.8" x2="1848.83" y2="676.8" stroke="#000" stroke-width="4.7" stroke-linecap="round"/>
<text x="1848.83" y="726" font-family='"Liberation Sans", Arial, Helvetica, sans-serif' font-size="53" text-anchor="middle" fill="#000" stroke="#000" stroke-width="0.42">700</text>
<line x1="2122.7" y1="664.8" x2="2122.7" y2="676.8" stroke="#000" stroke-width="4.7" stroke-linecap="round"/>
<text x="2122.7" y="726" font-family='"Liberation Sans", Arial, Helvetica, sans-serif' font-size="53" text-anchor="middle" fill="#000" stroke="#000" stroke-width="0.42">800</text>
<line x1="1438.03" y1="664.8" x2="1438.03" y2="671.3" stroke="#000" stroke-width="4.7" stroke-linecap="round"/>
<line x1="1711.9" y1="664.8" x2="1711.9" y2="671.3" stroke="#000" stroke-width="4.7" stroke-linecap="round"/>
<line x1="1985.77" y1="664.8" x2="1985.77" y2="671.3" stroke="#000" stroke-width="4.7" stroke-linecap="round"/>
<text x="1712.2" y="802.2" font-family='"Liberation Sans", Arial, Helvetica, sans-serif' font-size="67.3" text-anchor="middle" fill="#000" stroke="#000" stroke-width="0.54">Wavelength / nm</text>
<text x="0" y="0" font-family='"Liberation Sans", Arial, Helvetica, sans-serif' font-size="66" text-anchor="middle" fill="#000" stroke="#000" stroke-width="0.53" transform="translate(1162.9 354.7) rotate(-90)">Absorbance</text>
<text x="1099.2" y="113.6" font-family='"Liberation Serif", "Times New Roman", Times, serif' font-size="84" text-anchor="start" fill="#000" stroke="#000" stroke-width="0">C</text>
<line x1="1312" y1="82.4" x2="1402.4" y2="82.4" stroke="#000" stroke-width="4.7" stroke-linecap="round"/>
<text x="1413.2" y="96.2" font-family='"Liberation Sans", Arial, Helvetica, sans-serif' font-size="37.5" text-anchor="start" fill="#000" stroke="#000" stroke-width="0.3">TMB+H<tspan dy="14.2" font-size="21.7" stroke-width="0.17">2</tspan><tspan dy="-14.2">O</tspan><tspan dy="14.2" font-size="21.7" stroke-width="0.17">2</tspan></text>
<line x1="1730.8" y1="82.4" x2="1820.3" y2="82.4" stroke="#f00" stroke-width="4.7" stroke-linecap="round"/>
<text x="1830.5" y="96.2" font-family='"Liberation Sans", Arial, Helvetica, sans-serif' font-size="37.5" text-anchor="start" fill="#000" stroke="#000" stroke-width="0.3">Ni+TMB+H<tspan dy="14.2" font-size="21.7" stroke-width="0.17">2</tspan><tspan dy="-14.2">O</tspan><tspan dy="14.2" font-size="21.7" stroke-width="0.17">2</tspan></text>
<line x1="1312" y1="144.6" x2="1402.4" y2="144.6" stroke="#00f" stroke-width="4.7" stroke-linecap="round"/>
<text x="1413.2" y="158.1" font-family='"Liberation Sans", Arial, Helvetica, sans-serif' font-size="37.5" text-anchor="start" fill="#000" stroke="#000" stroke-width="0.3">Pt+TMB+H<tspan dy="14.2" font-size="21.7" stroke-width="0.17">2</tspan><tspan dy="-14.2">O</tspan><tspan dy="14.2" font-size="21.7" stroke-width="0.17">2</tspan></text>
<line x1="1730.8" y1="144.6" x2="1820.3" y2="144.6" stroke="#008787" stroke-width="4.7" stroke-linecap="round"/>
<text x="1830.5" y="158.1" font-family='"Liberation Sans", Arial, Helvetica, sans-serif' font-size="37.5" text-anchor="start" fill="#000" stroke="#000" stroke-width="0.3">PtNi+TMB+H<tspan dy="14.2" font-size="21.7" stroke-width="0.17">2</tspan><tspan dy="-14.2">O</tspan><tspan dy="14.2" font-size="21.7" stroke-width="0.17">2</tspan></text>
<line x1="1312" y1="205.8" x2="1402.4" y2="205.8" stroke="#f0f" stroke-width="4.7" stroke-linecap="round"/>
<text x="1413.2" y="219.3" font-family='"Liberation Sans", Arial, Helvetica, sans-serif' font-size="37.5" text-anchor="start" fill="#000" stroke="#000" stroke-width="0.3">PtNi<tspan dy="14.2" font-size="21.7" stroke-width="0.17">3</tspan><tspan dy="-14.2">+TMB+H</tspan><tspan dy="14.2" font-size="21.7" stroke-width="0.17">2</tspan><tspan dy="-14.2">O</tspan><tspan dy="14.2" font-size="21.7" stroke-width="0.17">2</tspan></text>
<line x1="1733.3" y1="205.8" x2="1822.8" y2="205.8" stroke="#808000" stroke-width="4.7" stroke-linecap="round"/>
<text x="1833" y="219.3" font-family='"Liberation Sans", Arial, Helvetica, sans-serif' font-size="37.5" text-anchor="start" fill="#000" stroke="#000" stroke-width="0.3">PtNi<tspan dy="14.2" font-size="21.7" stroke-width="0.17">5</tspan><tspan dy="-14.2">+TMB+H</tspan><tspan dy="14.2" font-size="21.7" stroke-width="0.17">2</tspan><tspan dy="-14.2">O</tspan><tspan dy="14.2" font-size="21.7" stroke-width="0.17">2</tspan></text>
<rect x="1344.61" y="1257.2" width="82.4" height="249.5" fill="#00f" stroke="#000" stroke-width="1.7"/>
<line x1="1385.81" y1="1255.3" x2="1385.81" y2="1259.1" stroke="#000" stroke-width="2.6" stroke-linecap="butt"/>
<line x1="1380.31" y1="1255.3" x2="1391.31" y2="1255.3" stroke="#000" stroke-width="3.4" stroke-linecap="round"/>
<line x1="1380.31" y1="1259.1" x2="1391.31" y2="1259.1" stroke="#000" stroke-width="3.4" stroke-linecap="round"/>
<text x="0" y="0" font-family='"Liberation Sans", Arial, Helvetica, sans-serif' font-size="40" text-anchor="start" fill="#000" stroke="#000" stroke-width="0.32" transform="translate(1360.15 1540.25) rotate(45)">Pt</text>
<rect x="1508.83" y="1231.6" width="82.4" height="275.1" fill="#008787" stroke="#000" stroke-width="1.7"/>
<line x1="1550.03" y1="1229.6" x2="1550.03" y2="1233.6" stroke="#000" stroke-width="2.6" stroke-linecap="butt"/>
<line x1="1544.53" y1="1229.6" x2="1555.53" y2="1229.6" stroke="#000" stroke-width="3.4" stroke-linecap="round"/>
<line x1="1544.53" y1="1233.6" x2="1555.53" y2="1233.6" stroke="#000" stroke-width="3.4" stroke-linecap="round"/>
<text x="0" y="0" font-family='"Liberation Sans", Arial, Helvetica, sans-serif' font-size="40" text-anchor="start" fill="#000" stroke="#000" stroke-width="0.32" transform="translate(1507.15 1533.15) rotate(45)">PtNi</text>
<rect x="1673.05" y="1033.2" width="82.4" height="473.5" fill="#f0f" stroke="#000" stroke-width="1.7"/>
<line x1="1714.25" y1="1028.4" x2="1714.25" y2="1038" stroke="#000" stroke-width="2.6" stroke-linecap="butt"/>
<line x1="1708.75" y1="1028.4" x2="1719.75" y2="1028.4" stroke="#000" stroke-width="3.4" stroke-linecap="round"/>
<line x1="1708.75" y1="1038" x2="1719.75" y2="1038" stroke="#000" stroke-width="3.4" stroke-linecap="round"/>
<text x="0" y="0" font-family='"Liberation Sans", Arial, Helvetica, sans-serif' font-size="40" text-anchor="start" fill="#000" stroke="#000" stroke-width="0.32" transform="translate(1683.15 1533.15) rotate(45)">PtNi<tspan dy="15" font-size="23" stroke-width="0.18">3</tspan></text>
<rect x="1837.27" y="1254.2" width="82.4" height="252.5" fill="#808000" stroke="#000" stroke-width="1.7"/>
<line x1="1878.47" y1="1252.2" x2="1878.47" y2="1256.2" stroke="#000" stroke-width="2.6" stroke-linecap="butt"/>
<line x1="1872.97" y1="1252.2" x2="1883.97" y2="1252.2" stroke="#000" stroke-width="3.4" stroke-linecap="round"/>
<line x1="1872.97" y1="1256.2" x2="1883.97" y2="1256.2" stroke="#000" stroke-width="3.4" stroke-linecap="round"/>
<text x="0" y="0" font-family='"Liberation Sans", Arial, Helvetica, sans-serif' font-size="40" text-anchor="start" fill="#000" stroke="#000" stroke-width="0.32" transform="translate(1841.75 1535.25) rotate(45)">PtNi<tspan dy="15" font-size="23" stroke-width="0.18">5</tspan></text>
<rect x="2001.49" y="1464" width="82.4" height="42.7" fill="#f00" stroke="#000" stroke-width="1.7"/>
<line x1="2042.69" y1="1462" x2="2042.69" y2="1466" stroke="#000" stroke-width="2.6" stroke-linecap="butt"/>
<line x1="2037.19" y1="1462" x2="2048.19" y2="1462" stroke="#000" stroke-width="3.4" stroke-linecap="round"/>
<line x1="2037.19" y1="1466" x2="2048.19" y2="1466" stroke="#000" stroke-width="3.4" stroke-linecap="round"/>
<text x="0" y="0" font-family='"Liberation Sans", Arial, Helvetica, sans-serif' font-size="40" text-anchor="start" fill="#000" stroke="#000" stroke-width="0.32" transform="translate(2015.05 1537.25) rotate(45)">Ni</text>
<rect x="1303.7" y="896.3" width="821.1" height="610.4" fill="none" stroke="#000" stroke-width="4.6" stroke-linejoin="round"/>
<line x1="1303.7" y1="1506.7" x2="1291.7" y2="1506.7" stroke="#000" stroke-width="4.7" stroke-linecap="round"/>
<text x="1284" y="1521.7" font-family='"Liberation Sans", Arial, Helvetica, sans-serif' font-size="54.5" text-anchor="end" fill="#000" stroke="#000" stroke-width="0.44">0.00</text>
<line x1="1303.7" y1="1303.23" x2="1291.7" y2="1303.23" stroke="#000" stroke-width="4.7" stroke-linecap="round"/>
<text x="1284" y="1318.23" font-family='"Liberation Sans", Arial, Helvetica, sans-serif' font-size="54.5" text-anchor="end" fill="#000" stroke="#000" stroke-width="0.44">0.05</text>
<line x1="1303.7" y1="1099.77" x2="1291.7" y2="1099.77" stroke="#000" stroke-width="4.7" stroke-linecap="round"/>
<text x="1284" y="1114.77" font-family='"Liberation Sans", Arial, Helvetica, sans-serif' font-size="54.5" text-anchor="end" fill="#000" stroke="#000" stroke-width="0.44">0.10</text>
<line x1="1303.7" y1="896.3" x2="1291.7" y2="896.3" stroke="#000" stroke-width="4.7" stroke-linecap="round"/>
<text x="1284" y="911.3" font-family='"Liberation Sans", Arial, Helvetica, sans-serif' font-size="54.5" text-anchor="end" fill="#000" stroke="#000" stroke-width="0.44">0.15</text>
<line x1="1303.7" y1="1404.97" x2="1297.2" y2="1404.97" stroke="#000" stroke-width="4.7" stroke-linecap="round"/>
<line x1="1303.7" y1="1201.5" x2="1297.2" y2="1201.5" stroke="#000" stroke-width="4.7" stroke-linecap="round"/>
<line x1="1303.7" y1="998.03" x2="1297.2" y2="998.03" stroke="#000" stroke-width="4.7" stroke-linecap="round"/>
<text x="0" y="0" font-family='"Liberation Sans", Arial, Helvetica, sans-serif' font-size="67" text-anchor="middle" fill="#000" stroke="#000" stroke-width="0.54" transform="translate(1140 1247.5) rotate(-90)">Absorbance</text>
<text x="1093.5" y="942.1" font-family='"Liberation Serif", "Times New Roman", Times, serif' font-size="83" text-anchor="start" fill="#000" stroke="#000" stroke-width="0">D</text>
<line x1="2458.29" y1="605.6" x2="2495.38" y2="605.6" stroke="#f00" stroke-width="4.6" stroke-linecap="round"/>
<line x1="2533.98" y1="605.47" x2="2571.07" y2="605.23" stroke="#f00" stroke-width="4.6" stroke-linecap="round"/>
<line x1="2609.67" y1="605.05" x2="2646.76" y2="604.95" stroke="#f00" stroke-width="4.6" stroke-linecap="round"/>
<line x1="2684.04" y1="597.87" x2="2723.78" y2="582.33" stroke="#f00" stroke-width="4.6" stroke-linecap="round"/>
<line x1="2760.38" y1="580.35" x2="2798.82" y2="590.75" stroke="#f00" stroke-width="4.6" stroke-linecap="round"/>
<line x1="2836.6" y1="593.45" x2="2873.98" y2="588.85" stroke="#f00" stroke-width="4.6" stroke-linecap="round"/>
<line x1="2907.43" y1="573.53" x2="2954.54" y2="530.77" stroke="#f00" stroke-width="4.6" stroke-linecap="round"/>
<line x1="2972.37" y1="498.83" x2="3040.97" y2="131.67" stroke="#f00" stroke-width="4.6" stroke-linecap="round"/>
<line x1="3047.5" y1="131.77" x2="3117.22" y2="576.93" stroke="#f00" stroke-width="4.6" stroke-linecap="round"/>
<rect x="2427.59" y="594.2" width="22.8" height="22.8" fill="#f00"/>
<rect x="2503.28" y="594.2" width="22.8" height="22.8" fill="#f00"/>
<rect x="2578.97" y="593.7" width="22.8" height="22.8" fill="#f00"/>
<rect x="2654.66" y="593.5" width="22.8" height="22.8" fill="#f00"/>
<rect x="2730.35" y="563.9" width="22.8" height="22.8" fill="#f00"/>
<rect x="2806.05" y="584.4" width="22.8" height="22.8" fill="#f00"/>
<rect x="2881.74" y="575.1" width="22.8" height="22.8" fill="#f00"/>
<rect x="2957.43" y="506.4" width="22.8" height="22.8" fill="#f00"/>
<rect x="3033.12" y="101.3" width="22.8" height="22.8" fill="#f00"/>
<rect x="3108.81" y="584.6" width="22.8" height="22.8" fill="#f00"/>
<line x1="2458.29" y1="618.34" x2="2495.39" y2="617.66" stroke="#000" stroke-width="4.6" stroke-linecap="round"/>
<line x1="2533.98" y1="617.07" x2="2571.07" y2="616.63" stroke="#000" stroke-width="4.6" stroke-linecap="round"/>
<line x1="2609.67" y1="616.4" x2="2646.76" y2="616.4" stroke="#000" stroke-width="4.6" stroke-linecap="round"/>
<line x1="2685.16" y1="613.57" x2="2722.66" y2="608.03" stroke="#000" stroke-width="4.6" stroke-linecap="round"/>
<line x1="2753.09" y1="589.58" x2="2806.11" y2="516.52" stroke="#000" stroke-width="4.6" stroke-linecap="round"/>
<line x1="2832.22" y1="513.32" x2="2878.36" y2="552.08" stroke="#000" stroke-width="4.6" stroke-linecap="round"/>
<line x1="2909.68" y1="554.56" x2="2952.29" y2="528.94" stroke="#000" stroke-width="4.6" stroke-linecap="round"/>
<line x1="2972.37" y1="500.03" x2="3040.97" y2="132.97" stroke="#000" stroke-width="4.6" stroke-linecap="round"/>
<line x1="3047.54" y1="133.06" x2="3117.19" y2="572.84" stroke="#000" stroke-width="4.6" stroke-linecap="round"/>
<polygon points="2438.99,603.9 2442.31,614.13 2453.07,614.13 2444.37,620.45 2447.69,630.67 2438.99,624.35 2430.29,630.67 2433.61,620.45 2424.92,614.13 2435.67,614.13" fill="#000"/>
<polygon points="2514.68,602.5 2518,612.73 2528.76,612.73 2520.06,619.05 2523.38,629.27 2514.68,622.95 2505.98,629.27 2509.3,619.05 2500.61,612.73 2511.36,612.73" fill="#000"/>
<polygon points="2590.37,601.6 2593.7,611.83 2604.45,611.83 2595.75,618.15 2599.07,628.37 2590.37,622.05 2581.67,628.37 2585,618.15 2576.3,611.83 2587.05,611.83" fill="#000"/>
<polygon points="2666.06,601.6 2669.39,611.83 2680.14,611.83 2671.44,618.15 2674.76,628.37 2666.06,622.05 2657.36,628.37 2660.69,618.15 2651.99,611.83 2662.74,611.83" fill="#000"/>
<polygon points="2741.75,590.4 2745.08,600.63 2755.83,600.63 2747.13,606.95 2750.45,617.17 2741.75,610.85 2733.06,617.17 2736.38,606.95 2727.68,600.63 2738.43,600.63" fill="#000"/>
<polygon points="2817.45,486.1 2820.77,496.33 2831.52,496.33 2822.82,502.65 2826.14,512.87 2817.45,506.55 2808.75,512.87 2812.07,502.65 2803.37,496.33 2814.12,496.33" fill="#000"/>
<polygon points="2893.14,549.7 2896.46,559.93 2907.21,559.93 2898.51,566.25 2901.84,576.47 2893.14,570.15 2884.44,576.47 2887.76,566.25 2879.06,559.93 2889.81,559.93" fill="#000"/>
<polygon points="2968.83,504.2 2972.15,514.43 2982.9,514.43 2974.2,520.75 2977.53,530.97 2968.83,524.65 2960.13,530.97 2963.45,520.75 2954.75,514.43 2965.5,514.43" fill="#000"/>
<polygon points="3044.52,99.2 3047.84,109.43 3058.59,109.43 3049.9,115.75 3053.22,125.97 3044.52,119.65 3035.82,125.97 3039.14,115.75 3030.44,109.43 3041.2,109.43" fill="#000"/>
<polygon points="3120.21,577.1 3123.53,587.33 3134.28,587.33 3125.59,593.65 3128.91,603.87 3120.21,597.55 3111.51,603.87 3114.83,593.65 3106.13,587.33 3116.89,587.33" fill="#000"/>
<line x1="2363.3" y1="53.6" x2="3195.9" y2="53.6" stroke="#000" stroke-width="4.3" stroke-linecap="butt"/>
<line x1="2363.3" y1="668.6" x2="3195.9" y2="668.6" stroke="#000" stroke-width="3.3" stroke-linecap="butt"/>
<line x1="2363.3" y1="51.5" x2="2363.3" y2="670.4" stroke="#000" stroke-width="4.5" stroke-linecap="butt"/>
<line x1="3195.9" y1="51.2" x2="3195.9" y2="671" stroke="#f00" stroke-width="4.9" stroke-linecap="butt"/>
<line x1="2363.3" y1="607.1" x2="2351.3" y2="607.1" stroke="#000" stroke-width="4.5" stroke-linecap="round"/>
<text x="2343" y="622.1" font-family='"Liberation Sans", Arial, Helvetica, sans-serif' font-size="56.5" text-anchor="end" fill="#000" stroke="#000" stroke-width="0.45">0</text>
<line x1="2363.3" y1="484.1" x2="2351.3" y2="484.1" stroke="#000" stroke-width="4.5" stroke-linecap="round"/>
<text x="2343" y="499.1" font-family='"Liberation Sans", Arial, Helvetica, sans-serif' font-size="56.5" text-anchor="end" fill="#000" stroke="#000" stroke-width="0.45">5</text>
<line x1="2363.3" y1="361.1" x2="2351.3" y2="361.1" stroke="#000" stroke-width="4.5" stroke-linecap="round"/>
<text x="2343" y="376.1" font-family='"Liberation Sans", Arial, Helvetica, sans-serif' font-size="56.5" text-anchor="end" fill="#000" stroke="#000" stroke-width="0.45">10</text>
<line x1="2363.3" y1="238.1" x2="2351.3" y2="238.1" stroke="#000" stroke-width="4.5" stroke-linecap="round"/>
<text x="2343" y="253.1" font-family='"Liberation Sans", Arial, Helvetica, sans-serif' font-size="56.5" text-anchor="end" fill="#000" stroke="#000" stroke-width="0.45">15</text>
<line x1="2363.3" y1="115.1" x2="2351.3" y2="115.1" stroke="#000" stroke-width="4.5" stroke-linecap="round"/>
<text x="2343" y="130.1" font-family='"Liberation Sans", Arial, Helvetica, sans-serif' font-size="56.5" text-anchor="end" fill="#000" stroke="#000" stroke-width="0.45">20</text>
<line x1="2363.3" y1="668.6" x2="2356.8" y2="668.6" stroke="#000" stroke-width="4.5" stroke-linecap="round"/>
<line x1="2363.3" y1="545.6" x2="2356.8" y2="545.6" stroke="#000" stroke-width="4.5" stroke-linecap="round"/>
<line x1="2363.3" y1="422.6" x2="2356.8" y2="422.6" stroke="#000" stroke-width="4.5" stroke-linecap="round"/>
<line x1="2363.3" y1="299.6" x2="2356.8" y2="299.6" stroke="#000" stroke-width="4.5" stroke-linecap="round"/>
<line x1="2363.3" y1="176.6" x2="2356.8" y2="176.6" stroke="#000" stroke-width="4.5" stroke-linecap="round"/>
<line x1="2363.3" y1="53.6" x2="2356.8" y2="53.6" stroke="#000" stroke-width="4.5" stroke-linecap="round"/>
<line x1="3195.9" y1="624.67" x2="3207.9" y2="624.67" stroke="#f00" stroke-width="4.7" stroke-linecap="round"/>
<text x="3216.5" y="640.37" font-family='"Liberation Sans", Arial, Helvetica, sans-serif' font-size="56.5" text-anchor="start" fill="#f00" stroke="#f00" stroke-width="0.45">0</text>
<line x1="3195.9" y1="536.81" x2="3207.9" y2="536.81" stroke="#f00" stroke-width="4.7" stroke-linecap="round"/>
<text x="3216.5" y="552.51" font-family='"Liberation Sans", Arial, Helvetica, sans-serif' font-size="56.5" text-anchor="start" fill="#f00" stroke="#f00" stroke-width="0.45">10</text>
<line x1="3195.9" y1="448.96" x2="3207.9" y2="448.96" stroke="#f00" stroke-width="4.7" stroke-linecap="round"/>
<text x="3216.5" y="464.66" font-family='"Liberation Sans", Arial, Helvetica, sans-serif' font-size="56.5" text-anchor="start" fill="#f00" stroke="#f00" stroke-width="0.45">20</text>
<line x1="3195.9" y1="361.1" x2="3207.9" y2="361.1" stroke="#f00" stroke-width="4.7" stroke-linecap="round"/>
<text x="3216.5" y="376.8" font-family='"Liberation Sans", Arial, Helvetica, sans-serif' font-size="56.5" text-anchor="start" fill="#f00" stroke="#f00" stroke-width="0.45">30</text>
<line x1="3195.9" y1="273.24" x2="3207.9" y2="273.24" stroke="#f00" stroke-width="4.7" stroke-linecap="round"/>
<text x="3216.5" y="288.94" font-family='"Liberation Sans", Arial, Helvetica, sans-serif' font-size="56.5" text-anchor="start" fill="#f00" stroke="#f00" stroke-width="0.45">40</text>
<line x1="3195.9" y1="185.39" x2="3207.9" y2="185.39" stroke="#f00" stroke-width="4.7" stroke-linecap="round"/>
<text x="3216.5" y="201.09" font-family='"Liberation Sans", Arial, Helvetica, sans-serif' font-size="56.5" text-anchor="start" fill="#f00" stroke="#f00" stroke-width="0.45">50</text>
<line x1="3195.9" y1="97.53" x2="3207.9" y2="97.53" stroke="#f00" stroke-width="4.7" stroke-linecap="round"/>
<text x="3216.5" y="113.23" font-family='"Liberation Sans", Arial, Helvetica, sans-serif' font-size="56.5" text-anchor="start" fill="#f00" stroke="#f00" stroke-width="0.45">60</text>
<line x1="3195.9" y1="668.6" x2="3202.4" y2="668.6" stroke="#f00" stroke-width="4.7" stroke-linecap="round"/>
<line x1="3195.9" y1="580.74" x2="3202.4" y2="580.74" stroke="#f00" stroke-width="4.7" stroke-linecap="round"/>
<line x1="3195.9" y1="492.89" x2="3202.4" y2="492.89" stroke="#f00" stroke-width="4.7" stroke-linecap="round"/>
<line x1="3195.9" y1="405.03" x2="3202.4" y2="405.03" stroke="#f00" stroke-width="4.7" stroke-linecap="round"/>
<line x1="3195.9" y1="317.17" x2="3202.4" y2="317.17" stroke="#f00" stroke-width="4.7" stroke-linecap="round"/>
<line x1="3195.9" y1="229.31" x2="3202.4" y2="229.31" stroke="#f00" stroke-width="4.7" stroke-linecap="round"/>
<line x1="3195.9" y1="141.46" x2="3202.4" y2="141.46" stroke="#f00" stroke-width="4.7" stroke-linecap="round"/>
<line x1="3195.9" y1="53.6" x2="3202.4" y2="53.6" stroke="#f00" stroke-width="4.7" stroke-linecap="round"/>
<text x="2188.7" y="105.8" font-family='"Liberation Serif", "Times New Roman", Times, serif' font-size="84" text-anchor="start" fill="#000" stroke="#000" stroke-width="0">E</text>
<text x="0" y="0" font-family='"Liberation Sans", Arial, Helvetica, sans-serif' font-size="71.8" text-anchor="start" fill="#000" stroke="#000" stroke-width="0.57" transform="translate(2229.1 606.4) rotate(-90)">K<tspan dy="29" font-size="41.5" stroke-width="0.33">m (TMB)</tspan><tspan dy="-29"> / mM</tspan></text>
<text x="0" y="0" font-family='"Liberation Sans", Arial, Helvetica, sans-serif' font-size="71.8" text-anchor="start" fill="#f00" stroke="#f00" stroke-width="0.57" transform="translate(3353.2 598) rotate(-90)">K<tspan dy="27.5" font-size="41.5" stroke-width="0.33">m (H₂O₂)</tspan><tspan dy="-27.5"> / mM</tspan></text>
<text x="0" y="0" font-family='"Liberation Sans", Arial, Helvetica, sans-serif' font-size="41.7" text-anchor="start" fill="#000" stroke="#000" stroke-width="0.33" transform="translate(2400.6 705) rotate(30)">PtNi<tspan dy="15.5" font-size="23" stroke-width="0.18">3</tspan></text>
<text x="0" y="0" font-family='"Liberation Sans", Arial, Helvetica, sans-serif' font-size="41.7" text-anchor="start" fill="#000" stroke="#000" stroke-width="0.33" transform="translate(2475.3 703.9) rotate(30)">PtNi</text>
<text x="0" y="0" font-family='"Liberation Sans", Arial, Helvetica, sans-serif' font-size="41.7" text-anchor="start" fill="#000" stroke="#000" stroke-width="0.33" transform="translate(2554.1 702.9) rotate(30)">PtNi<tspan dy="15.5" font-size="23" stroke-width="0.18">5</tspan></text>
<text x="0" y="0" font-family='"Liberation Sans", Arial, Helvetica, sans-serif' font-size="41.7" text-anchor="start" fill="#000" stroke="#000" stroke-width="0.33" transform="translate(2636.8 703.9) rotate(30)">Pt</text>
<text x="0" y="0" font-family='"Liberation Sans", Arial, Helvetica, sans-serif' font-size="41.7" text-anchor="start" fill="#000" stroke="#000" stroke-width="0.33" transform="translate(2714.6 703.9) rotate(30)">Ni</text>
<text x="0" y="0" font-family='"Liberation Sans", Arial, Helvetica, sans-serif' font-size="41.7" text-anchor="start" fill="#000" stroke="#000" stroke-width="0.33" transform="translate(2772 705.1) rotate(30)">Pd@Pt</text>
<text x="0" y="0" font-family='"Liberation Sans", Arial, Helvetica, sans-serif' font-size="41.7" text-anchor="start" fill="#000" stroke="#000" stroke-width="0.33" transform="translate(2869.5 703.9) rotate(30)">Pt nanodendrites</text>
<text x="0" y="0" font-family='"Liberation Sans", Arial, Helvetica, sans-serif' font-size="41.7" text-anchor="start" fill="#000" stroke="#000" stroke-width="0.33" transform="translate(2945.2 701.9) rotate(30)">Fe-N-C</text>
<text x="0" y="0" font-family='"Liberation Sans", Arial, Helvetica, sans-serif' font-size="41.7" text-anchor="start" fill="#000" stroke="#000" stroke-width="0.33" transform="translate(3021.9 700.9) rotate(30)">Fe-Al-E</text>
<text x="0" y="0" font-family='"Liberation Sans", Arial, Helvetica, sans-serif' font-size="41.7" text-anchor="start" fill="#000" stroke="#000" stroke-width="0.33" transform="translate(3104.3 702.5) rotate(30)">HRP</text>
<line x1="2450.46" y1="1054.08" x2="2509.89" y2="1181.22" stroke="#f00" stroke-width="4.6" stroke-linecap="round"/>
<line x1="2535.56" y1="1206.85" x2="2576.35" y2="1225.85" stroke="#f00" stroke-width="4.6" stroke-linecap="round"/>
<line x1="2612.78" y1="1230.25" x2="2650.69" y2="1222.75" stroke="#f00" stroke-width="4.6" stroke-linecap="round"/>
<line x1="2675.97" y1="1237.23" x2="2739.06" y2="1418.47" stroke="#f00" stroke-width="4.6" stroke-linecap="round"/>
<line x1="2764.17" y1="1441.23" x2="2802.43" y2="1450.47" stroke="#f00" stroke-width="4.6" stroke-linecap="round"/>
<line x1="2840.49" y1="1455" x2="2877.67" y2="1455" stroke="#f00" stroke-width="4.6" stroke-linecap="round"/>
<line x1="2916.27" y1="1455" x2="2953.45" y2="1455" stroke="#f00" stroke-width="4.6" stroke-linecap="round"/>
<line x1="2992.05" y1="1455" x2="3029.24" y2="1455" stroke="#f00" stroke-width="4.6" stroke-linecap="round"/>
<line x1="3065.87" y1="1446.51" x2="3106.98" y2="1426.39" stroke="#f00" stroke-width="4.6" stroke-linecap="round"/>
<rect x="2430.88" y="1025.2" width="22.8" height="22.8" fill="#f00"/>
<rect x="2506.66" y="1187.3" width="22.8" height="22.8" fill="#f00"/>
<rect x="2582.45" y="1222.6" width="22.8" height="22.8" fill="#f00"/>
<rect x="2658.23" y="1207.6" width="22.8" height="22.8" fill="#f00"/>
<rect x="2734.01" y="1425.3" width="22.8" height="22.8" fill="#f00"/>
<rect x="2809.79" y="1443.6" width="22.8" height="22.8" fill="#f00"/>
<rect x="2885.57" y="1443.6" width="22.8" height="22.8" fill="#f00"/>
<rect x="2961.35" y="1443.6" width="22.8" height="22.8" fill="#f00"/>
<rect x="3037.14" y="1443.6" width="22.8" height="22.8" fill="#f00"/>
<rect x="3112.92" y="1406.5" width="22.8" height="22.8" fill="#f00"/>
<line x1="2448.24" y1="971.86" x2="2512.11" y2="1168.64" stroke="#000" stroke-width="4.6" stroke-linecap="round"/>
<line x1="2533.31" y1="1198.83" x2="2578.6" y2="1233.97" stroke="#000" stroke-width="4.6" stroke-linecap="round"/>
<line x1="2606.97" y1="1231.65" x2="2656.5" y2="1178.25" stroke="#000" stroke-width="4.6" stroke-linecap="round"/>
<line x1="2675.35" y1="1182.53" x2="2739.68" y2="1389.57" stroke="#000" stroke-width="4.6" stroke-linecap="round"/>
<line x1="2763.93" y1="1413.43" x2="2802.67" y2="1424.77" stroke="#000" stroke-width="4.6" stroke-linecap="round"/>
<line x1="2840.49" y1="1430.2" x2="2877.67" y2="1430.2" stroke="#000" stroke-width="4.6" stroke-linecap="round"/>
<line x1="2916.27" y1="1430.2" x2="2953.45" y2="1430.2" stroke="#000" stroke-width="4.6" stroke-linecap="round"/>
<line x1="2992.05" y1="1430.2" x2="3029.24" y2="1430.2" stroke="#000" stroke-width="4.6" stroke-linecap="round"/>
<line x1="3064.74" y1="1419.72" x2="3108.11" y2="1391.68" stroke="#000" stroke-width="4.6" stroke-linecap="round"/>
<polygon points="2442.28,938.7 2445.6,948.93 2456.36,948.93 2447.66,955.25 2450.98,965.47 2442.28,959.15 2433.58,965.47 2436.9,955.25 2428.21,948.93 2438.96,948.93" fill="#000"/>
<polygon points="2518.06,1172.2 2521.39,1182.43 2532.14,1182.43 2523.44,1188.75 2526.76,1198.97 2518.06,1192.65 2509.36,1198.97 2512.69,1188.75 2503.99,1182.43 2514.74,1182.43" fill="#000"/>
<polygon points="2593.85,1231 2597.17,1241.23 2607.92,1241.23 2599.22,1247.55 2602.54,1257.77 2593.85,1251.45 2585.15,1257.77 2588.47,1247.55 2579.77,1241.23 2590.52,1241.23" fill="#000"/>
<polygon points="2669.63,1149.3 2672.95,1159.53 2683.7,1159.53 2675,1165.85 2678.33,1176.07 2669.63,1169.75 2660.93,1176.07 2664.25,1165.85 2655.55,1159.53 2666.3,1159.53" fill="#000"/>
<polygon points="2745.41,1393.2 2748.73,1403.43 2759.48,1403.43 2750.79,1409.75 2754.11,1419.97 2745.41,1413.65 2736.71,1419.97 2740.03,1409.75 2731.33,1403.43 2742.09,1403.43" fill="#000"/>
<polygon points="2821.19,1415.4 2824.51,1425.63 2835.27,1425.63 2826.57,1431.95 2829.89,1442.17 2821.19,1435.85 2812.49,1442.17 2815.81,1431.95 2807.12,1425.63 2817.87,1425.63" fill="#000"/>
<polygon points="2896.97,1415.4 2900.3,1425.63 2911.05,1425.63 2902.35,1431.95 2905.67,1442.17 2896.97,1435.85 2888.27,1442.17 2891.6,1431.95 2882.9,1425.63 2893.65,1425.63" fill="#000"/>
<polygon points="2972.75,1415.4 2976.08,1425.63 2986.83,1425.63 2978.13,1431.95 2981.45,1442.17 2972.75,1435.85 2964.06,1442.17 2967.38,1431.95 2958.68,1425.63 2969.43,1425.63" fill="#000"/>
<polygon points="3048.54,1415.4 3051.86,1425.63 3062.61,1425.63 3053.91,1431.95 3057.24,1442.17 3048.54,1435.85 3039.84,1442.17 3043.16,1431.95 3034.46,1425.63 3045.21,1425.63" fill="#000"/>
<polygon points="3124.32,1366.4 3127.64,1376.63 3138.39,1376.63 3129.7,1382.95 3133.02,1393.17 3124.32,1386.85 3115.62,1393.17 3118.94,1382.95 3110.24,1376.63 3121,1376.63" fill="#000"/>
<line x1="2366.5" y1="897.9" x2="3200.1" y2="897.9" stroke="#000" stroke-width="4.4" stroke-linecap="butt"/>
<line x1="2366.5" y1="1501.6" x2="3200.1" y2="1501.6" stroke="#000" stroke-width="4.3" stroke-linecap="butt"/>
<line x1="2366.5" y1="895.7" x2="2366.5" y2="1503.7" stroke="#000" stroke-width="4.6" stroke-linecap="butt"/>
<line x1="3200.1" y1="896.1" x2="3200.1" y2="1503.4" stroke="#f00" stroke-width="3.5" stroke-linecap="butt"/>
<line x1="2366.5" y1="1455.16" x2="2354.5" y2="1455.16" stroke="#000" stroke-width="4.5" stroke-linecap="round"/>
<text x="2346.5" y="1470.16" font-family='"Liberation Sans", Arial, Helvetica, sans-serif' font-size="56.5" text-anchor="end" fill="#000" stroke="#000" stroke-width="0.45">0</text>
<line x1="2366.5" y1="1269.41" x2="2354.5" y2="1269.41" stroke="#000" stroke-width="4.5" stroke-linecap="round"/>
<text x="2346.5" y="1284.41" font-family='"Liberation Sans", Arial, Helvetica, sans-serif' font-size="56.5" text-anchor="end" fill="#000" stroke="#000" stroke-width="0.45">2</text>
<line x1="2366.5" y1="1083.65" x2="2354.5" y2="1083.65" stroke="#000" stroke-width="4.5" stroke-linecap="round"/>
<text x="2346.5" y="1098.65" font-family='"Liberation Sans", Arial, Helvetica, sans-serif' font-size="56.5" text-anchor="end" fill="#000" stroke="#000" stroke-width="0.45">4</text>
<line x1="2366.5" y1="897.9" x2="2354.5" y2="897.9" stroke="#000" stroke-width="4.5" stroke-linecap="round"/>
<text x="2346.5" y="912.9" font-family='"Liberation Sans", Arial, Helvetica, sans-serif' font-size="56.5" text-anchor="end" fill="#000" stroke="#000" stroke-width="0.45">6</text>
<line x1="2366.5" y1="1362.28" x2="2360" y2="1362.28" stroke="#000" stroke-width="4.5" stroke-linecap="round"/>
<line x1="2366.5" y1="1176.53" x2="2360" y2="1176.53" stroke="#000" stroke-width="4.5" stroke-linecap="round"/>
<line x1="2366.5" y1="990.78" x2="2360" y2="990.78" stroke="#000" stroke-width="4.5" stroke-linecap="round"/>
<line x1="3200.1" y1="1430.58" x2="3212.1" y2="1430.58" stroke="#f00" stroke-width="3.5" stroke-linecap="round"/>
<text x="3220.5" y="1446.28" font-family='"Liberation Sans", Arial, Helvetica, sans-serif' font-size="56.5" text-anchor="start" fill="#f00" stroke="#f00" stroke-width="0.45">0</text>
<line x1="3200.1" y1="1288.53" x2="3212.1" y2="1288.53" stroke="#f00" stroke-width="3.5" stroke-linecap="round"/>
<text x="3220.5" y="1304.23" font-family='"Liberation Sans", Arial, Helvetica, sans-serif' font-size="56.5" text-anchor="start" fill="#f00" stroke="#f00" stroke-width="0.45">1</text>
<line x1="3200.1" y1="1146.48" x2="3212.1" y2="1146.48" stroke="#f00" stroke-width="3.5" stroke-linecap="round"/>
<text x="3220.5" y="1162.18" font-family='"Liberation Sans", Arial, Helvetica, sans-serif' font-size="56.5" text-anchor="start" fill="#f00" stroke="#f00" stroke-width="0.45">2</text>
<line x1="3200.1" y1="1004.44" x2="3212.1" y2="1004.44" stroke="#f00" stroke-width="3.5" stroke-linecap="round"/>
<text x="3220.5" y="1020.14" font-family='"Liberation Sans", Arial, Helvetica, sans-serif' font-size="56.5" text-anchor="start" fill="#f00" stroke="#f00" stroke-width="0.45">3</text>
<line x1="3200.1" y1="1501.6" x2="3206.6" y2="1501.6" stroke="#f00" stroke-width="3.5" stroke-linecap="round"/>
<line x1="3200.1" y1="1359.55" x2="3206.6" y2="1359.55" stroke="#f00" stroke-width="3.5" stroke-linecap="round"/>
<line x1="3200.1" y1="1217.51" x2="3206.6" y2="1217.51" stroke="#f00" stroke-width="3.5" stroke-linecap="round"/>
<line x1="3200.1" y1="1075.46" x2="3206.6" y2="1075.46" stroke="#f00" stroke-width="3.5" stroke-linecap="round"/>
<line x1="3200.1" y1="933.41" x2="3206.6" y2="933.41" stroke="#f00" stroke-width="3.5" stroke-linecap="round"/>
<text x="2223" y="948.9" font-family='"Liberation Serif", "Times New Roman", Times, serif' font-size="83" text-anchor="start" fill="#000" stroke="#000" stroke-width="0">F</text>
<text x="0" y="0" font-family='"Liberation Sans", Arial, Helvetica, sans-serif' font-size="71.8" text-anchor="start" fill="#000" stroke="#000" stroke-width="0.57" transform="translate(2272.4 1399.8) rotate(-90)">K<tspan dy="27.5" font-size="41.5" stroke-width="0.33">cat (TMB)</tspan><tspan dy="-27.5"> / s</tspan><tspan dy="-40" font-size="41" stroke-width="0.33">-1</tspan></text>
<text x="0" y="0" font-family='"Liberation Sans", Arial, Helvetica, sans-serif' font-size="71.8" text-anchor="start" fill="#f00" stroke="#f00" stroke-width="0.57" transform="translate(3332.6 1399.1) rotate(-90)">K<tspan dy="27.5" font-size="41.5" stroke-width="0.33">cat (H₂O₂)</tspan><tspan dy="-27.5"> / s</tspan><tspan dy="-40" font-size="41" stroke-width="0.33">-1</tspan></text>
<text x="0" y="0" font-family='"Liberation Sans", Arial, Helvetica, sans-serif' font-size="41.7" text-anchor="start" fill="#000" stroke="#000" stroke-width="0.33" transform="translate(2403.6 1539.4) rotate(30)">PtNi<tspan dy="15.5" font-size="23" stroke-width="0.18">3</tspan></text>
<text x="0" y="0" font-family='"Liberation Sans", Arial, Helvetica, sans-serif' font-size="41.7" text-anchor="start" fill="#000" stroke="#000" stroke-width="0.33" transform="translate(2481.4 1536) rotate(30)">PtNi</text>
<text x="0" y="0" font-family='"Liberation Sans", Arial, Helvetica, sans-serif' font-size="41.7" text-anchor="start" fill="#000" stroke="#000" stroke-width="0.33" transform="translate(2561.1 1535) rotate(30)">PtNi<tspan dy="15.5" font-size="23" stroke-width="0.18">5</tspan></text>
<text x="0" y="0" font-family='"Liberation Sans", Arial, Helvetica, sans-serif' font-size="41.7" text-anchor="start" fill="#000" stroke="#000" stroke-width="0.33" transform="translate(2643.9 1537) rotate(30)">Pt</text>
<text x="0" y="0" font-family='"Liberation Sans", Arial, Helvetica, sans-serif' font-size="41.7" text-anchor="start" fill="#000" stroke="#000" stroke-width="0.33" transform="translate(2718.6 1537) rotate(30)">Ni</text>
<text x="0" y="0" font-family='"Liberation Sans", Arial, Helvetica, sans-serif' font-size="41.7" text-anchor="start" fill="#000" stroke="#000" stroke-width="0.33" transform="translate(2777.9 1538) rotate(30)">Pd@Pt</text>
<text x="0" y="0" font-family='"Liberation Sans", Arial, Helvetica, sans-serif' font-size="41.7" text-anchor="start" fill="#000" stroke="#000" stroke-width="0.33" transform="translate(2869.5 1537) rotate(30)">Pt nanodendrites</text>
<text x="0" y="0" font-family='"Liberation Sans", Arial, Helvetica, sans-serif' font-size="41.7" text-anchor="start" fill="#000" stroke="#000" stroke-width="0.33" transform="translate(2952.8 1535) rotate(30)">Fe-N-C</text>
<text x="0" y="0" font-family='"Liberation Sans", Arial, Helvetica, sans-serif' font-size="41.7" text-anchor="start" fill="#000" stroke="#000" stroke-width="0.33" transform="translate(3025.9 1529.3) rotate(30)">Fe-Al-E</text>
<text x="0" y="0" font-family='"Liberation Sans", Arial, Helvetica, sans-serif' font-size="41.7" text-anchor="start" fill="#000" stroke="#000" stroke-width="0.33" transform="translate(3108.7 1530.9) rotate(30)">HRP</text>
</svg>
</body></html>
